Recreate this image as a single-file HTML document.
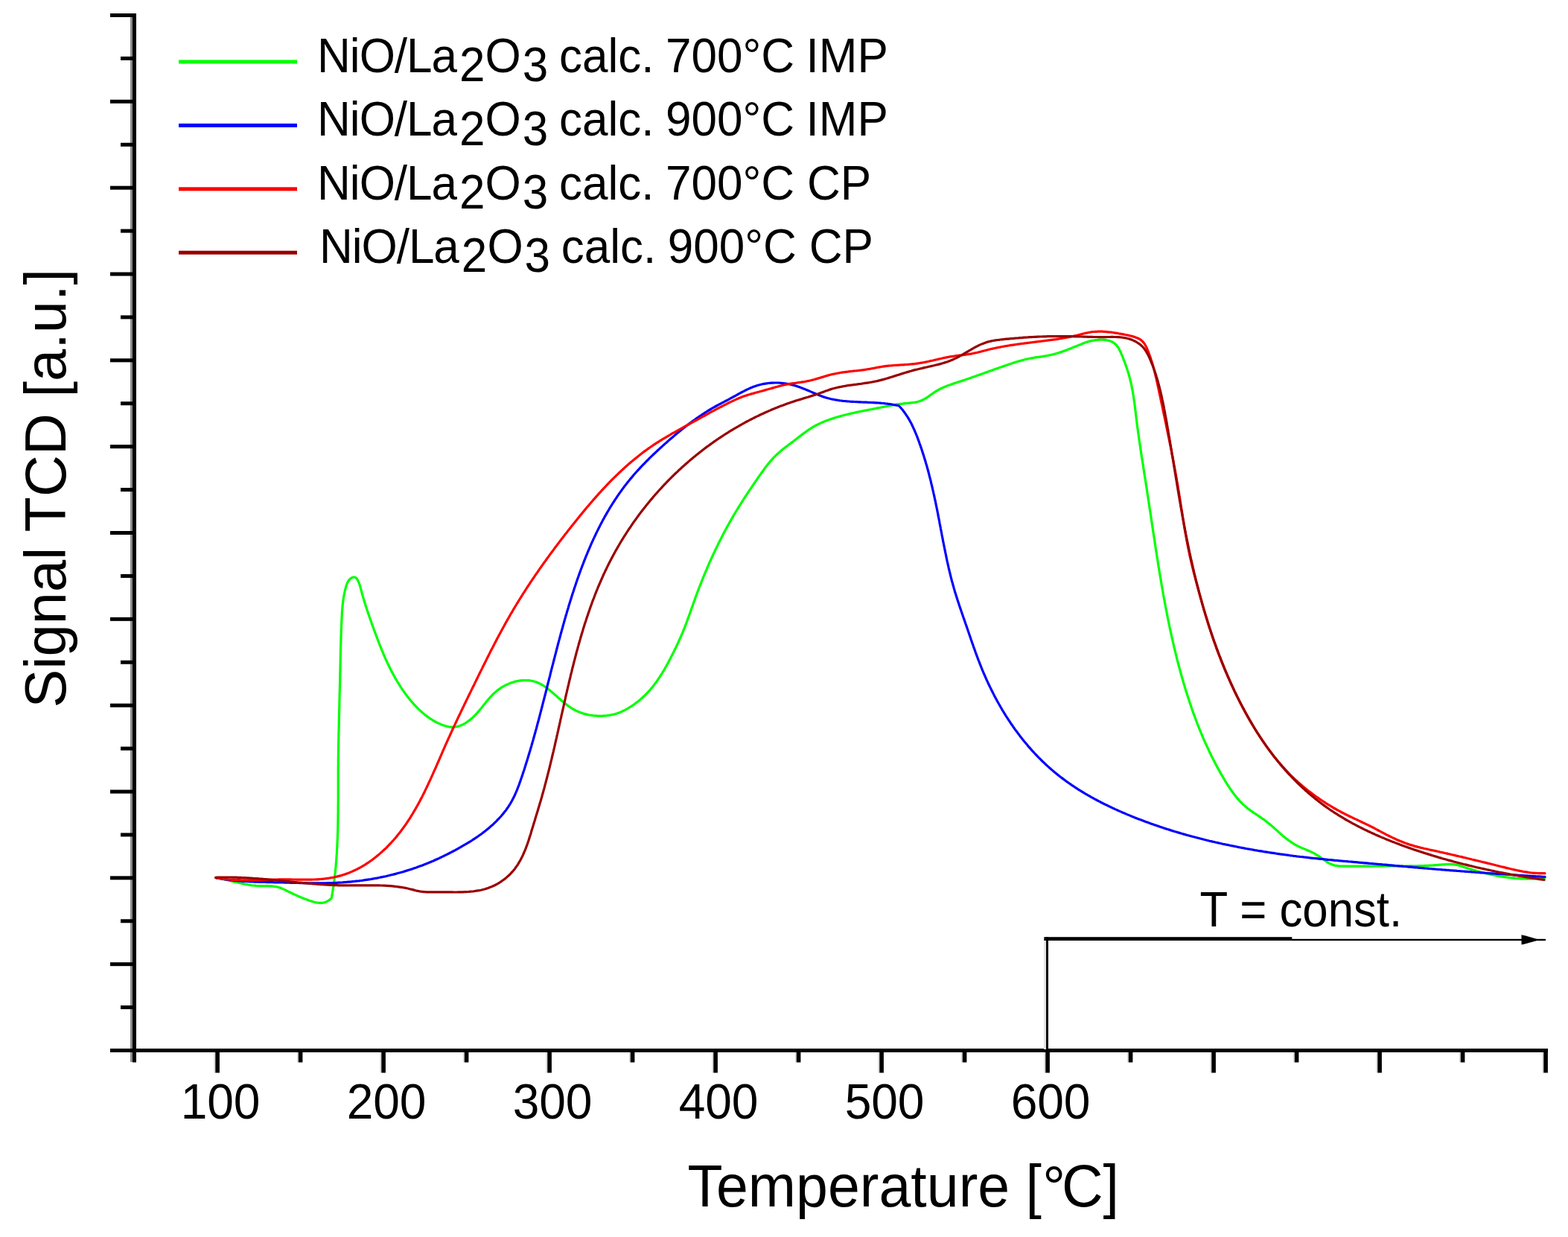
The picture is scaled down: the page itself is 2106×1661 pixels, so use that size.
<!DOCTYPE html>
<html><head><meta charset="utf-8"><title>TPR profiles</title>
<style>
html,body{margin:0;padding:0;background:#fff;}
svg{display:block;}
text{font-family:"Liberation Sans", Arial, sans-serif;fill:#000;}
.tl{font-size:63px;}
.tc{font-size:63px;}
.lg{font-size:62px;}
.al{font-size:79px;}
.yl{font-size:78px;}
.deg{letter-spacing:-6px;}
</style></head><body>
<svg xmlns="http://www.w3.org/2000/svg" width="2106" height="1661" viewBox="0 0 2106 1661">
<rect width="2106" height="1661" fill="#fff"/>
<rect x="175" y="23" width="3" height="1403" fill="#8a8a8a"/>
<rect x="178" y="18" width="5" height="1408.5" fill="#000"/>
<rect x="148" y="18.00" width="35" height="5" fill="#000"/>
<rect x="162" y="75.92" width="21" height="5" fill="#000"/>
<rect x="148" y="133.83" width="35" height="5" fill="#000"/>
<rect x="162" y="191.75" width="21" height="5" fill="#000"/>
<rect x="148" y="249.67" width="35" height="5" fill="#000"/>
<rect x="162" y="307.59" width="21" height="5" fill="#000"/>
<rect x="148" y="365.50" width="35" height="5" fill="#000"/>
<rect x="162" y="423.42" width="21" height="5" fill="#000"/>
<rect x="148" y="481.34" width="35" height="5" fill="#000"/>
<rect x="162" y="539.25" width="21" height="5" fill="#000"/>
<rect x="148" y="597.17" width="35" height="5" fill="#000"/>
<rect x="162" y="655.09" width="21" height="5" fill="#000"/>
<rect x="148" y="713.00" width="35" height="5" fill="#000"/>
<rect x="162" y="770.92" width="21" height="5" fill="#000"/>
<rect x="148" y="828.84" width="35" height="5" fill="#000"/>
<rect x="162" y="886.75" width="21" height="5" fill="#000"/>
<rect x="148" y="944.67" width="35" height="5" fill="#000"/>
<rect x="162" y="1002.59" width="21" height="5" fill="#000"/>
<rect x="148" y="1060.51" width="35" height="5" fill="#000"/>
<rect x="162" y="1118.42" width="21" height="5" fill="#000"/>
<rect x="148" y="1176.34" width="35" height="5" fill="#000"/>
<rect x="162" y="1234.26" width="21" height="5" fill="#000"/>
<rect x="148" y="1292.17" width="35" height="5" fill="#000"/>
<rect x="162" y="1350.09" width="21" height="5" fill="#000"/>
<rect x="148" y="1408" width="1931" height="5" fill="#000"/>
<rect x="287.50" y="1413" width="1.8" height="27.5" fill="#d4d4d4"/>
<rect x="289.30" y="1412" width="5.6" height="28.5" fill="#000"/>
<rect x="399.00" y="1413" width="1.8" height="13.5" fill="#d4d4d4"/>
<rect x="400.80" y="1412" width="5.6" height="14.5" fill="#000"/>
<rect x="510.50" y="1413" width="1.8" height="27.5" fill="#d4d4d4"/>
<rect x="512.30" y="1412" width="5.6" height="28.5" fill="#000"/>
<rect x="622.00" y="1413" width="1.8" height="13.5" fill="#d4d4d4"/>
<rect x="623.80" y="1412" width="5.6" height="14.5" fill="#000"/>
<rect x="733.50" y="1413" width="1.8" height="27.5" fill="#d4d4d4"/>
<rect x="735.30" y="1412" width="5.6" height="28.5" fill="#000"/>
<rect x="845.00" y="1413" width="1.8" height="13.5" fill="#d4d4d4"/>
<rect x="846.80" y="1412" width="5.6" height="14.5" fill="#000"/>
<rect x="956.50" y="1413" width="1.8" height="27.5" fill="#d4d4d4"/>
<rect x="958.30" y="1412" width="5.6" height="28.5" fill="#000"/>
<rect x="1068.00" y="1413" width="1.8" height="13.5" fill="#d4d4d4"/>
<rect x="1069.80" y="1412" width="5.6" height="14.5" fill="#000"/>
<rect x="1179.50" y="1413" width="1.8" height="27.5" fill="#d4d4d4"/>
<rect x="1181.30" y="1412" width="5.6" height="28.5" fill="#000"/>
<rect x="1291.00" y="1413" width="1.8" height="13.5" fill="#d4d4d4"/>
<rect x="1292.80" y="1412" width="5.6" height="14.5" fill="#000"/>
<rect x="1402.50" y="1413" width="1.8" height="27.5" fill="#d4d4d4"/>
<rect x="1404.30" y="1412" width="5.6" height="28.5" fill="#000"/>
<rect x="1514.00" y="1413" width="1.8" height="13.5" fill="#d4d4d4"/>
<rect x="1515.80" y="1412" width="5.6" height="14.5" fill="#000"/>
<rect x="1625.50" y="1413" width="1.8" height="27.5" fill="#d4d4d4"/>
<rect x="1627.30" y="1412" width="5.6" height="28.5" fill="#000"/>
<rect x="1737.00" y="1413" width="1.8" height="13.5" fill="#d4d4d4"/>
<rect x="1738.80" y="1412" width="5.6" height="14.5" fill="#000"/>
<rect x="1848.50" y="1413" width="1.8" height="27.5" fill="#d4d4d4"/>
<rect x="1850.30" y="1412" width="5.6" height="28.5" fill="#000"/>
<rect x="1960.00" y="1413" width="1.8" height="13.5" fill="#d4d4d4"/>
<rect x="1961.80" y="1412" width="5.6" height="14.5" fill="#000"/>
<rect x="2071.50" y="1413" width="1.8" height="27.5" fill="#d4d4d4"/>
<rect x="2073.30" y="1412" width="5.6" height="28.5" fill="#000"/>
<text transform="translate(349.5,1502.4) scale(1.017,1.06)" text-anchor="end" class="tl">100</text>
<text transform="translate(572.5,1502.4) scale(1.017,1.06)" text-anchor="end" class="tl">200</text>
<text transform="translate(795.5,1502.4) scale(1.017,1.06)" text-anchor="end" class="tl">300</text>
<text transform="translate(1018.5,1502.4) scale(1.017,1.06)" text-anchor="end" class="tl">400</text>
<text transform="translate(1241.5,1502.4) scale(1.017,1.06)" text-anchor="end" class="tl">500</text>
<text transform="translate(1464.5,1502.4) scale(1.017,1.06)" text-anchor="end" class="tl">600</text>
<rect x="1402" y="1263" width="3" height="146" fill="#e4e4e4"/>
<rect x="1405" y="1258.2" width="3" height="151" fill="#000"/>
<rect x="1402.3" y="1258.2" width="333" height="4.8" fill="#000"/>
<rect x="1735" y="1260.8" width="341" height="2.3" fill="#000"/>
<polygon points="2043.5,1255.3 2049,1256.6 2068,1261.9 2049,1267.3 2043.5,1268.6" fill="#000"/>
<text transform="translate(1611.5,1243.8) scale(0.98,1.053)" class="tc">T = const.</text>
<rect x="240" y="80.5" width="159" height="5" fill="#00ff00"/>
<text transform="translate(0.0,96.90) scale(1,1.04)" class="lg"><tspan x="426.1" y="0" style="letter-spacing:-1px">NiO/La</tspan><tspan x="617.0" y="11.83">2</tspan><tspan x="651.6" y="0">O</tspan><tspan x="701.8" y="11.83">3</tspan><tspan x="751.0" y="0">calc.</tspan> <tspan x="894.0" y="0">700°C</tspan> <tspan x="1082.6" y="0">IMP</tspan></text>
<rect x="240" y="165.9" width="159" height="5" fill="#0000ff"/>
<text transform="translate(0.0,182.25) scale(1,1.04)" class="lg"><tspan x="426.1" y="0" style="letter-spacing:-1px">NiO/La</tspan><tspan x="617.0" y="11.83">2</tspan><tspan x="651.6" y="0">O</tspan><tspan x="701.8" y="11.83">3</tspan><tspan x="751.0" y="0">calc.</tspan> <tspan x="894.0" y="0">900°C</tspan> <tspan x="1082.6" y="0">IMP</tspan></text>
<rect x="240" y="251.3" width="159" height="5" fill="#ff0000"/>
<text transform="translate(0.0,267.60) scale(1,1.04)" class="lg"><tspan x="426.1" y="0" style="letter-spacing:-1px">NiO/La</tspan><tspan x="617.0" y="11.83">2</tspan><tspan x="651.6" y="0">O</tspan><tspan x="701.8" y="11.83">3</tspan><tspan x="751.0" y="0">calc.</tspan> <tspan x="894.0" y="0">700°C</tspan> <tspan x="1084.0" y="0">CP</tspan></text>
<rect x="240" y="336.7" width="159" height="5" fill="#990000"/>
<text transform="translate(2.8,352.95) scale(1,1.04)" class="lg"><tspan x="426.1" y="0" style="letter-spacing:-1px">NiO/La</tspan><tspan x="617.0" y="11.83">2</tspan><tspan x="651.6" y="0">O</tspan><tspan x="701.8" y="11.83">3</tspan><tspan x="751.0" y="0">calc.</tspan> <tspan x="894.0" y="0">900°C</tspan> <tspan x="1084.0" y="0">CP</tspan></text>
<text transform="translate(87.5,950.4) rotate(-90) scale(0.995,1.0)" class="yl">Signal TCD [a.u.]</text>
<text transform="translate(923.4,1620.2) scale(0.976,1)" class="al">Temperature [<tspan x="488.6" dy="2">°</tspan><tspan x="514.9" dy="-2">C]</tspan></text>
<path d="M290.5 1178.8 L292.5 1179.1 L294.5 1179.5 L296.5 1179.8 L298.5 1180.2 L300.5 1180.6 L302.5 1181.1 L304.4 1181.5 L306.4 1182.0 L308.4 1182.4 L310.4 1182.9 L312.3 1183.4 L314.3 1183.9 L316.3 1184.4 L318.3 1184.8 L320.3 1185.3 L322.2 1185.8 L324.2 1186.2 L326.2 1186.6 L328.2 1187.1 L330.2 1187.4 L332.2 1187.8 L334.2 1188.2 L336.2 1188.5 L338.2 1188.8 L340.2 1189.0 L342.3 1189.2 L344.3 1189.4 L346.3 1189.5 L348.4 1189.6 L350.5 1189.7 L352.5 1189.7 L354.6 1189.7 L356.6 1189.7 L358.7 1189.7 L360.7 1189.7 L362.7 1189.8 L364.7 1189.9 L366.7 1190.1 L368.7 1190.3 L370.6 1190.6 L372.6 1191.0 L374.4 1191.5 L376.3 1192.1 L378.1 1192.8 L379.9 1193.6 L381.7 1194.4 L383.5 1195.3 L385.3 1196.2 L387.2 1197.1 L389.0 1198.0 L390.8 1198.8 L392.6 1199.7 L394.5 1200.6 L396.4 1201.4 L398.2 1202.3 L400.1 1203.1 L402.0 1204.0 L403.9 1204.8 L405.8 1205.6 L407.7 1206.3 L409.6 1207.1 L411.5 1207.8 L413.4 1208.5 L415.3 1209.2 L417.2 1209.8 L419.2 1210.4 L421.1 1211.0 L423.0 1211.5 L425.0 1211.9 L426.9 1212.2 L428.8 1212.4 L430.7 1212.4 L432.6 1212.3 L434.5 1212.0 L436.3 1211.6 L438.2 1210.9 L440.0 1210.0 L441.7 1208.9 L443.5 1207.6 L445.2 1206.0 L445.6 1204.0 L445.9 1202.1 L446.3 1200.1 L446.6 1198.2 L446.9 1196.2 L447.2 1194.2 L447.5 1192.3 L447.8 1190.3 L448.1 1188.3 L448.4 1186.3 L448.6 1184.4 L448.9 1182.4 L449.1 1180.4 L449.4 1178.4 L449.6 1176.5 L449.8 1174.5 L450.1 1172.5 L450.3 1170.5 L450.5 1168.5 L450.7 1166.6 L450.9 1164.6 L451.1 1162.6 L451.2 1160.6 L451.4 1158.6 L451.6 1156.6 L451.7 1154.6 L451.9 1152.6 L452.0 1150.6 L452.1 1148.6 L452.3 1146.7 L452.4 1144.7 L452.5 1142.7 L452.6 1140.7 L452.7 1138.7 L452.9 1136.7 L452.9 1134.7 L453.0 1132.7 L453.1 1130.7 L453.2 1128.7 L453.3 1126.7 L453.4 1124.7 L453.4 1122.7 L453.5 1120.7 L453.6 1118.7 L453.6 1116.7 L453.7 1114.7 L453.7 1112.7 L453.8 1110.7 L453.8 1108.6 L453.9 1106.6 L453.9 1104.6 L453.9 1102.6 L454.0 1100.6 L454.0 1098.6 L454.0 1096.6 L454.0 1094.6 L454.1 1092.6 L454.1 1090.6 L454.1 1088.6 L454.1 1086.6 L454.1 1084.6 L454.1 1082.6 L454.1 1080.5 L454.2 1078.5 L454.2 1076.5 L454.2 1074.5 L454.2 1072.5 L454.2 1070.5 L454.2 1068.5 L454.2 1066.5 L454.2 1064.5 L454.2 1062.5 L454.2 1060.5 L454.2 1058.4 L454.2 1056.4 L454.2 1054.4 L454.2 1052.4 L454.2 1050.4 L454.2 1048.4 L454.2 1046.4 L454.2 1044.4 L454.2 1042.4 L454.2 1040.4 L454.2 1038.4 L454.2 1036.4 L454.2 1034.4 L454.2 1032.4 L454.2 1030.4 L454.3 1028.4 L454.3 1026.4 L454.3 1024.4 L454.3 1022.4 L454.3 1020.4 L454.3 1018.3 L454.4 1016.3 L454.4 1014.3 L454.4 1012.3 L454.5 1010.3 L454.5 1008.4 L454.5 1006.4 L454.5 1004.4 L454.6 1002.4 L454.6 1000.4 L454.6 998.4 L454.7 996.4 L454.7 994.4 L454.8 992.4 L454.8 990.4 L454.8 988.4 L454.9 986.4 L454.9 984.4 L455.0 982.4 L455.0 980.4 L455.1 978.4 L455.1 976.4 L455.2 974.4 L455.2 972.4 L455.3 970.4 L455.3 968.4 L455.3 966.4 L455.4 964.4 L455.4 962.4 L455.5 960.4 L455.5 958.4 L455.6 956.4 L455.6 954.4 L455.7 952.4 L455.7 950.4 L455.8 948.4 L455.8 946.4 L455.9 944.4 L455.9 942.4 L456.0 940.4 L456.0 938.4 L456.1 936.4 L456.1 934.4 L456.2 932.4 L456.2 930.4 L456.3 928.4 L456.3 926.4 L456.4 924.4 L456.4 922.4 L456.5 920.4 L456.5 918.4 L456.6 916.4 L456.6 914.4 L456.7 912.3 L456.7 910.3 L456.7 908.3 L456.8 906.3 L456.8 904.3 L456.9 902.3 L456.9 900.3 L457.0 898.3 L457.0 896.3 L457.0 894.3 L457.1 892.2 L457.1 890.2 L457.2 888.2 L457.2 886.2 L457.3 884.2 L457.3 882.2 L457.3 880.2 L457.4 878.2 L457.4 876.2 L457.5 874.2 L457.5 872.2 L457.6 870.2 L457.6 868.2 L457.7 866.2 L457.8 864.2 L457.8 862.2 L457.9 860.2 L457.9 858.2 L458.0 856.2 L458.0 854.2 L458.1 852.2 L458.2 850.2 L458.2 848.2 L458.3 846.2 L458.4 844.2 L458.5 842.2 L458.5 840.2 L458.6 838.2 L458.7 836.3 L458.8 834.3 L458.9 832.3 L459.0 830.3 L459.1 828.3 L459.2 826.4 L459.3 824.4 L459.4 822.4 L459.5 820.4 L459.7 818.5 L459.8 816.5 L460.0 814.5 L460.2 812.5 L460.4 810.5 L460.6 808.6 L460.9 806.6 L461.2 804.6 L461.5 802.6 L461.8 800.5 L462.2 798.5 L462.6 796.5 L463.0 794.5 L463.5 792.4 L464.0 790.4 L464.6 788.3 L465.2 786.3 L465.9 784.3 L466.7 782.3 L467.6 780.5 L468.8 778.9 L470.1 777.4 L471.6 776.3 L473.1 775.4 L474.7 775.0 L476.2 775.0 L477.5 775.4 L478.7 776.4 L479.8 777.8 L480.7 779.5 L481.5 781.3 L482.3 783.2 L483.0 785.1 L483.6 787.1 L484.2 789.1 L484.7 791.0 L485.3 793.0 L485.8 795.0 L486.3 797.0 L486.9 799.0 L487.4 800.9 L488.0 802.9 L488.6 804.8 L489.1 806.8 L489.7 808.7 L490.3 810.6 L490.9 812.6 L491.6 814.5 L492.2 816.4 L492.8 818.3 L493.4 820.2 L494.1 822.1 L494.7 824.0 L495.4 825.9 L496.0 827.8 L496.7 829.7 L497.3 831.6 L498.0 833.4 L498.7 835.3 L499.3 837.2 L500.0 839.1 L500.7 841.0 L501.4 842.8 L502.0 844.7 L502.7 846.6 L503.4 848.5 L504.1 850.3 L504.8 852.2 L505.5 854.1 L506.2 855.9 L506.9 857.8 L507.6 859.7 L508.3 861.5 L509.0 863.4 L509.8 865.3 L510.5 867.1 L511.2 869.0 L512.0 870.8 L512.7 872.7 L513.5 874.5 L514.3 876.3 L515.0 878.2 L515.8 880.0 L516.6 881.8 L517.4 883.7 L518.2 885.5 L519.1 887.3 L519.9 889.1 L520.7 890.9 L521.6 892.7 L522.5 894.5 L523.3 896.3 L524.2 898.1 L525.1 899.8 L526.0 901.6 L527.0 903.4 L527.9 905.1 L528.9 906.9 L529.8 908.6 L530.8 910.4 L531.8 912.1 L532.8 913.8 L533.8 915.5 L534.9 917.2 L535.9 918.9 L537.0 920.6 L538.1 922.3 L539.2 924.0 L540.3 925.7 L541.5 927.3 L542.6 929.0 L543.8 930.6 L545.0 932.2 L546.2 933.9 L547.4 935.5 L548.7 937.1 L550.0 938.7 L551.2 940.2 L552.5 941.8 L553.9 943.4 L555.2 944.9 L556.6 946.4 L558.0 947.9 L559.4 949.3 L560.8 950.8 L562.2 952.2 L563.7 953.6 L565.2 955.0 L566.7 956.3 L568.2 957.6 L569.7 958.9 L571.3 960.2 L572.9 961.4 L574.5 962.6 L576.1 963.7 L577.7 964.9 L579.4 965.9 L581.1 967.0 L582.8 968.0 L584.5 969.0 L586.2 969.9 L588.0 970.8 L589.8 971.6 L591.6 972.4 L593.4 973.2 L595.2 973.8 L597.1 974.5 L599.0 975.0 L600.9 975.5 L602.8 975.9 L604.7 976.1 L606.6 976.3 L608.6 976.3 L610.5 976.2 L612.5 976.0 L614.4 975.5 L616.4 975.0 L618.3 974.3 L620.3 973.5 L622.1 972.6 L624.0 971.6 L625.8 970.5 L627.6 969.3 L629.2 968.1 L630.9 966.9 L632.5 965.6 L634.0 964.3 L635.5 962.9 L636.9 961.5 L638.3 960.1 L639.7 958.6 L641.1 957.1 L642.4 955.6 L643.7 954.1 L645.0 952.5 L646.3 951.0 L647.5 949.4 L648.8 947.8 L650.0 946.2 L651.3 944.7 L652.5 943.1 L653.8 941.6 L655.1 940.0 L656.4 938.5 L657.7 937.0 L659.0 935.5 L660.4 934.1 L661.8 932.6 L663.2 931.2 L664.7 929.9 L666.2 928.6 L667.7 927.3 L669.3 926.1 L671.0 924.9 L672.7 923.7 L674.4 922.7 L676.2 921.6 L678.0 920.6 L679.8 919.7 L681.6 918.9 L683.5 918.1 L685.4 917.3 L687.4 916.6 L689.3 916.0 L691.2 915.4 L693.2 914.9 L695.2 914.5 L697.1 914.2 L699.1 913.9 L701.1 913.7 L703.0 913.5 L705.0 913.5 L707.0 913.5 L708.9 913.6 L710.8 913.7 L712.7 914.0 L714.6 914.3 L716.4 914.7 L718.3 915.2 L720.1 915.8 L721.8 916.5 L723.6 917.3 L725.3 918.1 L727.0 919.0 L728.6 919.9 L730.3 921.0 L731.9 922.0 L733.5 923.2 L735.1 924.3 L736.7 925.6 L738.3 926.8 L739.8 928.1 L741.4 929.4 L742.9 930.7 L744.5 932.1 L746.0 933.5 L747.6 934.8 L749.1 936.2 L750.7 937.6 L752.3 939.0 L753.8 940.4 L755.4 941.7 L757.0 943.0 L758.6 944.4 L760.3 945.6 L761.9 946.9 L763.6 948.1 L765.2 949.3 L767.0 950.4 L768.7 951.5 L770.4 952.5 L772.2 953.5 L774.1 954.4 L775.9 955.2 L777.8 956.0 L779.6 956.8 L781.5 957.4 L783.5 958.1 L785.4 958.6 L787.4 959.1 L789.3 959.6 L791.3 960.0 L793.3 960.3 L795.2 960.6 L797.2 960.9 L799.2 961.1 L801.2 961.2 L803.2 961.3 L805.2 961.4 L807.1 961.4 L809.1 961.3 L811.1 961.2 L813.0 961.1 L814.9 960.9 L816.8 960.6 L818.7 960.4 L820.6 960.0 L822.5 959.6 L824.3 959.2 L826.2 958.7 L828.0 958.2 L829.8 957.6 L831.6 956.9 L833.4 956.2 L835.3 955.4 L837.1 954.5 L839.0 953.6 L840.8 952.6 L842.7 951.6 L844.5 950.5 L846.2 949.4 L848.0 948.3 L849.7 947.2 L851.4 946.0 L853.0 944.8 L854.6 943.6 L856.2 942.4 L857.8 941.2 L859.3 939.9 L860.8 938.6 L862.3 937.3 L863.7 936.0 L865.1 934.7 L866.5 933.3 L867.9 931.9 L869.2 930.5 L870.6 929.1 L871.9 927.7 L873.2 926.2 L874.4 924.7 L875.7 923.2 L876.9 921.7 L878.1 920.2 L879.3 918.6 L880.5 917.0 L881.7 915.4 L882.8 913.8 L883.9 912.2 L885.1 910.5 L886.2 908.8 L887.2 907.2 L888.3 905.5 L889.4 903.8 L890.4 902.0 L891.5 900.3 L892.5 898.6 L893.5 896.8 L894.5 895.1 L895.5 893.3 L896.5 891.5 L897.4 889.7 L898.4 888.0 L899.3 886.2 L900.3 884.4 L901.2 882.6 L902.1 880.8 L903.0 879.0 L903.9 877.2 L904.8 875.4 L905.7 873.6 L906.6 871.8 L907.5 870.0 L908.3 868.2 L909.2 866.4 L910.0 864.6 L910.9 862.8 L911.7 861.0 L912.5 859.2 L913.3 857.4 L914.1 855.6 L914.9 853.8 L915.7 851.9 L916.5 850.1 L917.2 848.3 L918.0 846.5 L918.7 844.6 L919.4 842.8 L920.2 840.9 L920.9 839.1 L921.6 837.2 L922.3 835.3 L923.0 833.5 L923.6 831.6 L924.3 829.7 L925.0 827.8 L925.7 826.0 L926.4 824.1 L927.0 822.2 L927.7 820.3 L928.4 818.4 L929.0 816.5 L929.7 814.7 L930.4 812.8 L931.0 810.9 L931.7 809.0 L932.4 807.1 L933.1 805.2 L933.7 803.4 L934.4 801.5 L935.1 799.6 L935.8 797.7 L936.5 795.8 L937.2 794.0 L937.9 792.1 L938.6 790.2 L939.4 788.4 L940.1 786.5 L940.8 784.6 L941.6 782.8 L942.3 780.9 L943.0 779.1 L943.8 777.2 L944.5 775.4 L945.3 773.5 L946.1 771.7 L946.8 769.8 L947.6 768.0 L948.4 766.1 L949.2 764.3 L949.9 762.4 L950.7 760.6 L951.5 758.8 L952.3 756.9 L953.1 755.1 L954.0 753.3 L954.8 751.5 L955.6 749.6 L956.4 747.8 L957.3 746.0 L958.1 744.2 L958.9 742.4 L959.8 740.6 L960.7 738.8 L961.5 737.0 L962.4 735.2 L963.3 733.4 L964.1 731.6 L965.0 729.8 L965.9 728.0 L966.8 726.2 L967.7 724.4 L968.6 722.7 L969.5 720.9 L970.4 719.1 L971.4 717.3 L972.3 715.6 L973.2 713.8 L974.2 712.0 L975.1 710.3 L976.1 708.5 L977.0 706.8 L978.0 705.0 L979.0 703.3 L979.9 701.6 L980.9 699.8 L981.9 698.1 L982.9 696.3 L983.9 694.6 L984.9 692.9 L985.9 691.2 L987.0 689.5 L988.0 687.7 L989.0 686.0 L990.1 684.3 L991.1 682.6 L992.1 680.9 L993.2 679.2 L994.3 677.5 L995.3 675.8 L996.4 674.1 L997.5 672.5 L998.5 670.8 L999.6 669.1 L1000.7 667.4 L1001.8 665.7 L1002.9 664.1 L1004.0 662.4 L1005.1 660.7 L1006.2 659.1 L1007.3 657.4 L1008.5 655.7 L1009.6 654.1 L1010.7 652.4 L1011.8 650.8 L1012.9 649.1 L1014.1 647.5 L1015.2 645.8 L1016.4 644.2 L1017.5 642.5 L1018.6 640.9 L1019.8 639.2 L1020.9 637.6 L1022.1 635.9 L1023.2 634.3 L1024.4 632.7 L1025.6 631.1 L1026.7 629.5 L1027.9 627.9 L1029.1 626.3 L1030.4 624.7 L1031.6 623.1 L1032.9 621.6 L1034.1 620.1 L1035.4 618.6 L1036.7 617.1 L1038.0 615.6 L1039.4 614.2 L1040.8 612.8 L1042.2 611.4 L1043.6 610.0 L1045.1 608.7 L1046.6 607.4 L1048.1 606.1 L1049.6 604.8 L1051.1 603.6 L1052.7 602.3 L1054.3 601.1 L1055.9 599.9 L1057.4 598.7 L1059.0 597.5 L1060.6 596.3 L1062.2 595.1 L1063.8 593.9 L1065.4 592.7 L1067.0 591.4 L1068.6 590.2 L1070.2 589.0 L1071.8 587.8 L1073.3 586.5 L1074.9 585.3 L1076.5 584.1 L1078.1 582.9 L1079.7 581.7 L1081.3 580.6 L1082.9 579.4 L1084.5 578.3 L1086.1 577.1 L1087.8 576.0 L1089.5 575.0 L1091.1 573.9 L1092.8 572.9 L1094.5 572.0 L1096.3 571.0 L1098.0 570.1 L1099.8 569.3 L1101.6 568.4 L1103.4 567.6 L1105.2 566.8 L1107.0 566.1 L1108.9 565.3 L1110.7 564.6 L1112.6 563.9 L1114.4 563.3 L1116.3 562.6 L1118.2 562.0 L1120.1 561.4 L1122.0 560.8 L1123.9 560.2 L1125.9 559.6 L1127.8 559.1 L1129.7 558.5 L1131.6 558.0 L1133.6 557.5 L1135.5 557.0 L1137.5 556.5 L1139.4 556.1 L1141.4 555.6 L1143.3 555.1 L1145.3 554.7 L1147.3 554.3 L1149.2 553.8 L1151.2 553.4 L1153.1 553.0 L1155.1 552.6 L1157.1 552.2 L1159.1 551.8 L1161.0 551.4 L1163.0 551.0 L1165.0 550.6 L1166.9 550.2 L1168.9 549.8 L1170.9 549.5 L1172.8 549.1 L1174.8 548.7 L1176.8 548.3 L1178.7 547.9 L1180.7 547.6 L1182.6 547.2 L1184.6 546.8 L1186.5 546.4 L1188.5 546.0 L1190.4 545.7 L1192.3 545.3 L1194.3 544.9 L1196.2 544.5 L1198.2 544.2 L1200.1 543.8 L1202.0 543.5 L1204.0 543.1 L1205.9 542.8 L1207.9 542.6 L1209.8 542.3 L1211.8 542.1 L1213.8 541.8 L1215.7 541.6 L1217.7 541.5 L1219.7 541.3 L1221.7 541.1 L1223.6 540.9 L1225.6 540.7 L1227.5 540.4 L1229.5 540.1 L1231.4 539.7 L1233.3 539.3 L1235.1 538.7 L1236.9 538.1 L1238.7 537.3 L1240.5 536.4 L1242.3 535.5 L1244.0 534.4 L1245.7 533.3 L1247.4 532.1 L1249.0 530.9 L1250.7 529.7 L1252.4 528.5 L1254.1 527.4 L1255.8 526.2 L1257.5 525.1 L1259.2 524.1 L1261.0 523.1 L1262.8 522.2 L1264.6 521.3 L1266.4 520.5 L1268.2 519.7 L1270.0 519.0 L1271.8 518.2 L1273.7 517.5 L1275.5 516.9 L1277.4 516.2 L1279.2 515.6 L1281.1 514.9 L1283.0 514.3 L1284.9 513.7 L1286.7 513.1 L1288.6 512.5 L1290.5 511.9 L1292.4 511.2 L1294.3 510.6 L1296.1 510.0 L1298.0 509.3 L1299.9 508.7 L1301.8 508.0 L1303.6 507.4 L1305.5 506.7 L1307.4 506.1 L1309.3 505.4 L1311.2 504.7 L1313.0 504.1 L1314.9 503.4 L1316.8 502.7 L1318.7 502.1 L1320.6 501.4 L1322.4 500.7 L1324.3 500.0 L1326.2 499.4 L1328.1 498.7 L1330.0 498.0 L1331.9 497.4 L1333.7 496.7 L1335.6 496.0 L1337.5 495.3 L1339.4 494.7 L1341.3 494.0 L1343.2 493.3 L1345.1 492.7 L1347.0 492.0 L1348.9 491.4 L1350.8 490.7 L1352.7 490.1 L1354.6 489.4 L1356.5 488.8 L1358.4 488.2 L1360.3 487.5 L1362.2 486.9 L1364.1 486.3 L1366.0 485.7 L1367.9 485.1 L1369.9 484.6 L1371.8 484.0 L1373.7 483.5 L1375.6 483.0 L1377.6 482.5 L1379.5 482.1 L1381.4 481.7 L1383.4 481.3 L1385.3 480.9 L1387.3 480.6 L1389.2 480.2 L1391.2 479.9 L1393.1 479.6 L1395.1 479.4 L1397.1 479.1 L1399.0 478.8 L1401.0 478.5 L1402.9 478.2 L1404.9 477.8 L1406.8 477.5 L1408.8 477.1 L1410.8 476.7 L1412.7 476.3 L1414.7 475.8 L1416.6 475.3 L1418.6 474.7 L1420.5 474.2 L1422.4 473.6 L1424.4 472.9 L1426.3 472.3 L1428.2 471.6 L1430.1 470.9 L1432.0 470.3 L1433.9 469.5 L1435.8 468.8 L1437.6 468.1 L1439.5 467.3 L1441.3 466.6 L1443.1 465.8 L1444.9 465.1 L1446.7 464.4 L1448.5 463.6 L1450.3 462.9 L1452.1 462.2 L1453.8 461.5 L1455.6 460.8 L1457.4 460.1 L1459.2 459.5 L1461.1 458.9 L1463.0 458.4 L1464.9 457.9 L1466.8 457.4 L1468.9 457.1 L1470.9 456.7 L1473.0 456.5 L1475.2 456.3 L1477.3 456.2 L1479.5 456.2 L1481.7 456.2 L1483.8 456.4 L1485.9 456.7 L1487.9 457.1 L1489.9 457.6 L1491.8 458.3 L1493.6 459.0 L1495.3 460.0 L1496.8 461.0 L1498.2 462.2 L1499.5 463.6 L1500.7 465.0 L1501.8 466.6 L1502.8 468.2 L1503.7 470.0 L1504.6 471.7 L1505.4 473.6 L1506.2 475.4 L1507.0 477.3 L1507.8 479.1 L1508.5 481.0 L1509.2 482.9 L1510.0 484.8 L1510.7 486.6 L1511.4 488.5 L1512.0 490.4 L1512.7 492.3 L1513.3 494.2 L1514.0 496.1 L1514.6 498.1 L1515.2 500.0 L1515.8 501.9 L1516.3 503.8 L1516.9 505.8 L1517.4 507.7 L1517.9 509.6 L1518.4 511.6 L1518.9 513.5 L1519.3 515.5 L1519.7 517.4 L1520.1 519.4 L1520.5 521.3 L1520.9 523.3 L1521.3 525.3 L1521.6 527.2 L1521.9 529.2 L1522.3 531.2 L1522.6 533.2 L1522.8 535.2 L1523.1 537.1 L1523.4 539.1 L1523.7 541.1 L1523.9 543.1 L1524.2 545.1 L1524.4 547.1 L1524.7 549.1 L1524.9 551.0 L1525.2 553.0 L1525.4 555.0 L1525.6 557.0 L1525.9 559.0 L1526.1 561.0 L1526.4 563.0 L1526.6 565.0 L1526.9 567.0 L1527.1 568.9 L1527.4 570.9 L1527.6 572.9 L1527.9 574.9 L1528.2 576.9 L1528.4 578.9 L1528.7 580.8 L1529.0 582.8 L1529.3 584.8 L1529.5 586.8 L1529.8 588.8 L1530.1 590.7 L1530.4 592.7 L1530.7 594.7 L1531.0 596.7 L1531.3 598.7 L1531.6 600.6 L1531.8 602.6 L1532.1 604.6 L1532.4 606.6 L1532.7 608.5 L1533.0 610.5 L1533.3 612.5 L1533.6 614.5 L1534.0 616.4 L1534.3 618.4 L1534.6 620.4 L1534.9 622.4 L1535.2 624.3 L1535.5 626.3 L1535.8 628.3 L1536.1 630.3 L1536.4 632.2 L1536.7 634.2 L1537.0 636.2 L1537.3 638.2 L1537.6 640.1 L1538.0 642.1 L1538.3 644.1 L1538.6 646.1 L1538.9 648.0 L1539.2 650.0 L1539.5 652.0 L1539.8 654.0 L1540.1 656.0 L1540.4 657.9 L1540.7 659.9 L1541.0 661.9 L1541.3 663.9 L1541.6 665.8 L1541.9 667.8 L1542.2 669.8 L1542.5 671.8 L1542.8 673.8 L1543.1 675.7 L1543.4 677.7 L1543.7 679.7 L1544.0 681.7 L1544.3 683.7 L1544.6 685.6 L1544.9 687.6 L1545.2 689.6 L1545.5 691.6 L1545.8 693.6 L1546.1 695.6 L1546.4 697.5 L1546.7 699.5 L1547.0 701.5 L1547.3 703.5 L1547.6 705.5 L1547.9 707.5 L1548.2 709.4 L1548.5 711.4 L1548.8 713.4 L1549.1 715.4 L1549.4 717.4 L1549.7 719.4 L1550.0 721.3 L1550.3 723.3 L1550.6 725.3 L1550.9 727.3 L1551.2 729.3 L1551.5 731.2 L1551.8 733.2 L1552.1 735.2 L1552.4 737.2 L1552.7 739.2 L1553.0 741.2 L1553.3 743.1 L1553.6 745.1 L1553.9 747.1 L1554.3 749.1 L1554.6 751.1 L1554.9 753.0 L1555.2 755.0 L1555.5 757.0 L1555.8 759.0 L1556.1 761.0 L1556.5 762.9 L1556.8 764.9 L1557.1 766.9 L1557.4 768.9 L1557.8 770.9 L1558.1 772.8 L1558.4 774.8 L1558.8 776.8 L1559.1 778.8 L1559.4 780.7 L1559.8 782.7 L1560.1 784.7 L1560.4 786.7 L1560.8 788.6 L1561.1 790.6 L1561.5 792.6 L1561.8 794.6 L1562.2 796.5 L1562.5 798.5 L1562.9 800.5 L1563.2 802.5 L1563.6 804.4 L1564.0 806.4 L1564.3 808.4 L1564.7 810.3 L1565.1 812.3 L1565.4 814.3 L1565.8 816.2 L1566.2 818.2 L1566.6 820.2 L1567.0 822.1 L1567.3 824.1 L1567.7 826.1 L1568.1 828.0 L1568.5 830.0 L1568.9 832.0 L1569.3 833.9 L1569.7 835.9 L1570.1 837.8 L1570.5 839.8 L1570.9 841.8 L1571.3 843.7 L1571.8 845.7 L1572.2 847.6 L1572.6 849.6 L1573.0 851.5 L1573.5 853.5 L1573.9 855.4 L1574.3 857.4 L1574.8 859.3 L1575.2 861.3 L1575.7 863.2 L1576.1 865.2 L1576.6 867.1 L1577.0 869.1 L1577.5 871.0 L1578.0 873.0 L1578.4 874.9 L1578.9 876.9 L1579.4 878.8 L1579.9 880.7 L1580.3 882.7 L1580.8 884.6 L1581.3 886.6 L1581.8 888.5 L1582.3 890.4 L1582.8 892.4 L1583.3 894.3 L1583.9 896.2 L1584.4 898.2 L1584.9 900.1 L1585.4 902.0 L1586.0 904.0 L1586.5 905.9 L1587.0 907.8 L1587.6 909.7 L1588.1 911.7 L1588.7 913.6 L1589.2 915.5 L1589.8 917.4 L1590.4 919.3 L1591.0 921.3 L1591.5 923.2 L1592.1 925.1 L1592.7 927.0 L1593.3 928.9 L1593.9 930.8 L1594.5 932.7 L1595.1 934.6 L1595.7 936.5 L1596.3 938.4 L1597.0 940.3 L1597.6 942.2 L1598.2 944.1 L1598.9 946.0 L1599.5 947.9 L1600.2 949.8 L1600.8 951.7 L1601.5 953.6 L1602.1 955.5 L1602.8 957.4 L1603.5 959.3 L1604.2 961.1 L1604.9 963.0 L1605.6 964.9 L1606.3 966.8 L1607.0 968.7 L1607.7 970.5 L1608.4 972.4 L1609.2 974.3 L1609.9 976.1 L1610.6 978.0 L1611.4 979.8 L1612.2 981.7 L1612.9 983.5 L1613.7 985.4 L1614.5 987.2 L1615.2 989.1 L1616.0 990.9 L1616.8 992.8 L1617.6 994.6 L1618.4 996.4 L1619.3 998.3 L1620.1 1000.1 L1620.9 1001.9 L1621.8 1003.7 L1622.6 1005.5 L1623.5 1007.3 L1624.3 1009.2 L1625.2 1011.0 L1626.1 1012.8 L1626.9 1014.6 L1627.8 1016.4 L1628.7 1018.2 L1629.6 1019.9 L1630.6 1021.7 L1631.5 1023.5 L1632.4 1025.3 L1633.3 1027.1 L1634.3 1028.8 L1635.2 1030.6 L1636.2 1032.4 L1637.2 1034.1 L1638.2 1035.9 L1639.1 1037.6 L1640.1 1039.4 L1641.1 1041.1 L1642.2 1042.9 L1643.2 1044.6 L1644.2 1046.3 L1645.2 1048.1 L1646.3 1049.8 L1647.3 1051.5 L1648.4 1053.2 L1649.5 1054.9 L1650.6 1056.6 L1651.7 1058.3 L1652.8 1059.9 L1654.0 1061.6 L1655.1 1063.2 L1656.3 1064.8 L1657.5 1066.4 L1658.7 1068.0 L1660.0 1069.6 L1661.2 1071.1 L1662.5 1072.6 L1663.8 1074.1 L1665.1 1075.6 L1666.5 1077.0 L1667.9 1078.4 L1669.3 1079.8 L1670.7 1081.1 L1672.2 1082.4 L1673.7 1083.7 L1675.2 1085.0 L1676.8 1086.2 L1678.4 1087.4 L1680.0 1088.6 L1681.6 1089.7 L1683.3 1090.8 L1684.9 1092.0 L1686.6 1093.1 L1688.3 1094.2 L1689.9 1095.3 L1691.6 1096.4 L1693.3 1097.6 L1694.9 1098.7 L1696.6 1099.9 L1698.2 1101.0 L1699.8 1102.2 L1701.4 1103.5 L1703.0 1104.7 L1704.5 1106.0 L1706.1 1107.3 L1707.6 1108.6 L1709.1 1109.9 L1710.6 1111.2 L1712.1 1112.6 L1713.6 1113.9 L1715.1 1115.2 L1716.6 1116.6 L1718.1 1117.9 L1719.6 1119.3 L1721.1 1120.6 L1722.6 1121.9 L1724.2 1123.2 L1725.7 1124.4 L1727.2 1125.7 L1728.8 1126.9 L1730.4 1128.1 L1732.0 1129.3 L1733.6 1130.4 L1735.2 1131.5 L1736.9 1132.6 L1738.6 1133.6 L1740.3 1134.6 L1742.1 1135.5 L1743.8 1136.4 L1745.6 1137.2 L1747.5 1138.1 L1749.3 1138.9 L1751.2 1139.6 L1753.0 1140.4 L1754.9 1141.2 L1756.7 1142.0 L1758.6 1142.8 L1760.4 1143.6 L1762.2 1144.5 L1764.0 1145.4 L1765.8 1146.3 L1767.6 1147.3 L1769.3 1148.3 L1771.0 1149.4 L1772.6 1150.5 L1774.3 1151.7 L1775.9 1152.9 L1777.5 1154.0 L1779.1 1155.2 L1780.7 1156.3 L1782.4 1157.4 L1784.0 1158.5 L1785.7 1159.4 L1787.5 1160.2 L1789.3 1161.0 L1791.1 1161.6 L1793.0 1162.1 L1794.9 1162.4 L1796.9 1162.7 L1798.9 1162.9 L1801.0 1163.0 L1803.0 1163.1 L1805.1 1163.1 L1807.2 1163.2 L1809.3 1163.1 L1811.3 1163.1 L1813.4 1163.1 L1815.5 1163.1 L1817.5 1163.1 L1819.5 1163.1 L1821.6 1163.1 L1823.6 1163.1 L1825.6 1163.1 L1827.7 1163.1 L1829.7 1163.1 L1831.7 1163.1 L1833.7 1163.1 L1835.7 1163.1 L1837.7 1163.1 L1839.7 1163.1 L1841.7 1163.1 L1843.7 1163.1 L1845.6 1163.0 L1847.6 1163.0 L1849.6 1163.0 L1851.6 1163.0 L1853.6 1163.0 L1855.6 1163.0 L1857.5 1163.0 L1859.5 1163.0 L1861.5 1163.0 L1863.5 1163.0 L1865.5 1163.0 L1867.5 1163.0 L1869.4 1163.0 L1871.4 1163.0 L1873.4 1163.0 L1875.4 1163.0 L1877.4 1163.0 L1879.4 1163.0 L1881.4 1163.0 L1883.4 1163.0 L1885.4 1163.0 L1887.4 1163.0 L1889.5 1163.0 L1891.5 1163.0 L1893.5 1162.9 L1895.5 1162.9 L1897.5 1162.9 L1899.5 1162.8 L1901.5 1162.8 L1903.5 1162.8 L1905.5 1162.7 L1907.5 1162.7 L1909.5 1162.6 L1911.6 1162.5 L1913.6 1162.4 L1915.6 1162.4 L1917.6 1162.3 L1919.6 1162.2 L1921.6 1162.1 L1923.6 1162.0 L1925.6 1161.8 L1927.6 1161.7 L1929.6 1161.6 L1931.5 1161.4 L1933.5 1161.2 L1935.5 1161.1 L1937.5 1160.9 L1939.5 1160.8 L1941.4 1160.6 L1943.4 1160.5 L1945.4 1160.5 L1947.3 1160.4 L1949.3 1160.5 L1951.2 1160.6 L1953.2 1160.8 L1955.1 1161.1 L1957.0 1161.5 L1958.9 1161.9 L1960.9 1162.5 L1962.8 1163.1 L1964.7 1163.7 L1966.6 1164.4 L1968.5 1165.0 L1970.4 1165.6 L1972.3 1166.2 L1974.3 1166.8 L1976.2 1167.4 L1978.1 1168.0 L1980.0 1168.6 L1982.0 1169.1 L1983.9 1169.7 L1985.9 1170.2 L1987.8 1170.7 L1989.7 1171.2 L1991.7 1171.8 L1993.6 1172.2 L1995.6 1172.7 L1997.5 1173.2 L1999.5 1173.6 L2001.5 1174.1 L2003.4 1174.5 L2005.4 1174.9 L2007.4 1175.3 L2009.3 1175.7 L2011.3 1176.1 L2013.3 1176.4 L2015.2 1176.8 L2017.2 1177.1 L2019.2 1177.4 L2021.2 1177.7 L2023.2 1178.0 L2025.1 1178.2 L2027.1 1178.5 L2029.1 1178.7 L2031.1 1178.9 L2033.1 1179.1 L2035.1 1179.3 L2037.1 1179.5 L2039.0 1179.6 L2041.0 1179.7 L2043.0 1179.8 L2045.0 1179.9 L2047.0 1180.0 L2049.0 1180.0 L2051.0 1180.1 L2053.0 1180.1 L2055.0 1180.1 L2057.0 1180.0 L2059.0 1180.0 L2061.0 1179.9 L2063.0 1179.8 L2065.0 1179.7 L2067.0 1179.6 L2069.0 1179.4 L2071.0 1179.2 L2073.0 1179.0 L2075.0 1178.8" fill="none" stroke="#00ff00" stroke-width="3.2" stroke-linejoin="round" stroke-linecap="round"/>
<path d="M290.5 1178.8 L292.4 1179.2 L294.4 1179.5 L296.4 1179.9 L298.3 1180.2 L300.3 1180.5 L302.2 1180.8 L304.2 1181.1 L306.2 1181.3 L308.1 1181.6 L310.1 1181.8 L312.1 1182.0 L314.1 1182.3 L316.1 1182.5 L318.0 1182.6 L320.0 1182.8 L322.0 1183.0 L324.0 1183.1 L326.0 1183.3 L328.0 1183.4 L330.0 1183.5 L332.0 1183.6 L334.0 1183.7 L336.0 1183.8 L338.0 1183.9 L340.0 1184.0 L342.0 1184.1 L344.0 1184.2 L346.0 1184.2 L348.0 1184.3 L350.0 1184.4 L352.1 1184.4 L354.1 1184.5 L356.1 1184.5 L358.1 1184.6 L360.1 1184.6 L362.1 1184.7 L364.1 1184.7 L366.1 1184.7 L368.1 1184.8 L370.1 1184.8 L372.2 1184.9 L374.2 1184.9 L376.2 1185.0 L378.2 1185.0 L380.2 1185.0 L382.2 1185.1 L384.2 1185.1 L386.2 1185.2 L388.2 1185.2 L390.2 1185.3 L392.2 1185.3 L394.2 1185.4 L396.3 1185.4 L398.3 1185.5 L400.3 1185.5 L402.3 1185.6 L404.3 1185.6 L406.3 1185.7 L408.3 1185.7 L410.3 1185.7 L412.3 1185.8 L414.3 1185.8 L416.3 1185.8 L418.3 1185.8 L420.3 1185.9 L422.3 1185.9 L424.3 1185.9 L426.3 1185.9 L428.3 1185.9 L430.3 1185.9 L432.3 1185.8 L434.3 1185.8 L436.3 1185.8 L438.3 1185.8 L440.3 1185.7 L442.3 1185.7 L444.3 1185.6 L446.3 1185.5 L448.3 1185.5 L450.3 1185.4 L452.3 1185.3 L454.3 1185.2 L456.3 1185.1 L458.3 1185.0 L460.3 1184.9 L462.2 1184.7 L464.2 1184.6 L466.2 1184.4 L468.2 1184.2 L470.2 1184.1 L472.2 1183.9 L474.2 1183.7 L476.2 1183.5 L478.2 1183.2 L480.2 1183.0 L482.2 1182.8 L484.2 1182.5 L486.2 1182.3 L488.2 1182.0 L490.1 1181.7 L492.1 1181.4 L494.1 1181.1 L496.1 1180.8 L498.1 1180.5 L500.1 1180.1 L502.0 1179.8 L504.0 1179.4 L506.0 1179.1 L508.0 1178.7 L509.9 1178.3 L511.9 1177.9 L513.9 1177.5 L515.8 1177.1 L517.8 1176.7 L519.8 1176.2 L521.7 1175.8 L523.7 1175.3 L525.6 1174.8 L527.6 1174.4 L529.5 1173.9 L531.5 1173.4 L533.4 1172.8 L535.3 1172.3 L537.3 1171.8 L539.2 1171.2 L541.1 1170.7 L543.1 1170.1 L545.0 1169.5 L546.9 1168.9 L548.8 1168.3 L550.7 1167.7 L552.6 1167.1 L554.5 1166.5 L556.4 1165.8 L558.3 1165.2 L560.2 1164.5 L562.1 1163.8 L564.0 1163.1 L565.9 1162.4 L567.8 1161.7 L569.6 1161.0 L571.5 1160.3 L573.4 1159.5 L575.2 1158.8 L577.1 1158.0 L578.9 1157.2 L580.8 1156.4 L582.6 1155.7 L584.4 1154.8 L586.3 1154.0 L588.1 1153.2 L589.9 1152.4 L591.7 1151.5 L593.5 1150.6 L595.3 1149.8 L597.1 1148.9 L598.9 1148.0 L600.7 1147.1 L602.5 1146.2 L604.3 1145.3 L606.1 1144.4 L607.8 1143.5 L609.6 1142.5 L611.4 1141.6 L613.1 1140.6 L614.9 1139.7 L616.6 1138.7 L618.4 1137.7 L620.1 1136.7 L621.8 1135.7 L623.5 1134.7 L625.3 1133.7 L627.0 1132.7 L628.7 1131.7 L630.4 1130.6 L632.1 1129.6 L633.8 1128.5 L635.4 1127.4 L637.1 1126.3 L638.8 1125.2 L640.4 1124.1 L642.1 1123.0 L643.7 1121.8 L645.3 1120.7 L647.0 1119.5 L648.6 1118.3 L650.2 1117.0 L651.8 1115.8 L653.4 1114.5 L654.9 1113.3 L656.5 1112.0 L658.0 1110.6 L659.5 1109.3 L661.1 1108.0 L662.6 1106.6 L664.0 1105.2 L665.5 1103.8 L666.9 1102.4 L668.3 1100.9 L669.7 1099.5 L671.1 1098.0 L672.5 1096.5 L673.8 1095.0 L675.1 1093.4 L676.4 1091.9 L677.6 1090.3 L678.9 1088.7 L680.1 1087.1 L681.2 1085.5 L682.4 1083.8 L683.5 1082.1 L684.5 1080.5 L685.6 1078.8 L686.6 1077.0 L687.6 1075.3 L688.5 1073.5 L689.4 1071.8 L690.3 1070.0 L691.2 1068.2 L692.0 1066.4 L692.8 1064.5 L693.6 1062.7 L694.4 1060.8 L695.1 1059.0 L695.8 1057.1 L696.6 1055.2 L697.3 1053.3 L697.9 1051.4 L698.6 1049.5 L699.3 1047.6 L699.9 1045.7 L700.6 1043.8 L701.2 1041.9 L701.9 1040.0 L702.5 1038.1 L703.1 1036.2 L703.8 1034.3 L704.4 1032.4 L705.0 1030.4 L705.6 1028.5 L706.2 1026.6 L706.8 1024.7 L707.4 1022.8 L708.0 1020.9 L708.6 1018.9 L709.2 1017.0 L709.8 1015.1 L710.3 1013.2 L710.9 1011.2 L711.5 1009.3 L712.1 1007.4 L712.6 1005.5 L713.2 1003.6 L713.8 1001.6 L714.3 999.7 L714.9 997.8 L715.4 995.9 L716.0 993.9 L716.5 992.0 L717.1 990.1 L717.6 988.1 L718.1 986.2 L718.7 984.3 L719.2 982.4 L719.7 980.4 L720.3 978.5 L720.8 976.6 L721.3 974.6 L721.8 972.7 L722.3 970.8 L722.9 968.8 L723.4 966.9 L723.9 965.0 L724.4 963.0 L724.9 961.1 L725.4 959.2 L725.9 957.2 L726.4 955.3 L726.9 953.4 L727.4 951.4 L727.9 949.5 L728.4 947.5 L728.9 945.6 L729.4 943.7 L729.9 941.7 L730.4 939.8 L730.9 937.9 L731.4 935.9 L731.9 934.0 L732.4 932.0 L732.9 930.1 L733.4 928.2 L733.9 926.2 L734.4 924.3 L734.8 922.4 L735.3 920.4 L735.8 918.5 L736.3 916.5 L736.8 914.6 L737.3 912.7 L737.8 910.7 L738.3 908.8 L738.8 906.8 L739.2 904.9 L739.7 903.0 L740.2 901.0 L740.7 899.1 L741.2 897.2 L741.7 895.2 L742.2 893.3 L742.7 891.3 L743.2 889.4 L743.7 887.5 L744.2 885.5 L744.7 883.6 L745.2 881.7 L745.7 879.7 L746.2 877.8 L746.7 875.8 L747.2 873.9 L747.7 872.0 L748.2 870.0 L748.7 868.1 L749.2 866.2 L749.7 864.2 L750.2 862.3 L750.7 860.4 L751.3 858.4 L751.8 856.5 L752.3 854.6 L752.8 852.6 L753.3 850.7 L753.9 848.8 L754.4 846.8 L754.9 844.9 L755.5 843.0 L756.0 841.0 L756.5 839.1 L757.1 837.2 L757.6 835.2 L758.2 833.3 L758.7 831.4 L759.3 829.4 L759.8 827.5 L760.4 825.6 L761.0 823.7 L761.5 821.7 L762.1 819.8 L762.7 817.9 L763.3 816.0 L763.8 814.0 L764.4 812.1 L765.0 810.2 L765.6 808.3 L766.2 806.3 L766.8 804.4 L767.4 802.5 L768.0 800.6 L768.6 798.7 L769.2 796.8 L769.9 794.8 L770.5 792.9 L771.1 791.0 L771.7 789.1 L772.4 787.2 L773.0 785.3 L773.7 783.4 L774.3 781.4 L775.0 779.5 L775.6 777.6 L776.3 775.7 L777.0 773.8 L777.6 771.9 L778.3 770.0 L779.0 768.1 L779.7 766.2 L780.4 764.3 L781.1 762.5 L781.8 760.6 L782.5 758.7 L783.3 756.8 L784.0 754.9 L784.7 753.0 L785.5 751.2 L786.2 749.3 L786.9 747.4 L787.7 745.6 L788.5 743.7 L789.2 741.8 L790.0 740.0 L790.8 738.1 L791.6 736.3 L792.4 734.4 L793.2 732.6 L794.0 730.7 L794.8 728.9 L795.6 727.1 L796.5 725.2 L797.3 723.4 L798.2 721.6 L799.0 719.8 L799.9 718.0 L800.7 716.2 L801.6 714.4 L802.5 712.6 L803.4 710.8 L804.3 709.0 L805.2 707.2 L806.1 705.4 L807.0 703.6 L808.0 701.9 L808.9 700.1 L809.8 698.3 L810.8 696.6 L811.8 694.8 L812.7 693.1 L813.7 691.4 L814.7 689.6 L815.7 687.9 L816.7 686.2 L817.7 684.5 L818.7 682.7 L819.8 681.0 L820.8 679.3 L821.9 677.7 L822.9 676.0 L824.0 674.3 L825.1 672.6 L826.2 670.9 L827.3 669.3 L828.4 667.6 L829.5 666.0 L830.6 664.3 L831.8 662.7 L832.9 661.1 L834.1 659.5 L835.3 657.8 L836.4 656.2 L837.6 654.6 L838.8 653.0 L840.0 651.5 L841.2 649.9 L842.5 648.3 L843.7 646.7 L845.0 645.2 L846.2 643.6 L847.5 642.1 L848.8 640.6 L850.1 639.1 L851.4 637.5 L852.7 636.0 L854.0 634.5 L855.4 633.0 L856.7 631.5 L858.1 630.1 L859.4 628.6 L860.8 627.1 L862.2 625.7 L863.6 624.2 L865.0 622.8 L866.4 621.3 L867.8 619.9 L869.2 618.5 L870.6 617.1 L872.0 615.6 L873.5 614.2 L874.9 612.8 L876.4 611.4 L877.8 610.0 L879.3 608.7 L880.7 607.3 L882.2 605.9 L883.7 604.5 L885.2 603.2 L886.6 601.8 L888.1 600.5 L889.6 599.1 L891.1 597.8 L892.6 596.4 L894.1 595.1 L895.6 593.8 L897.1 592.4 L898.6 591.1 L900.1 589.8 L901.6 588.5 L903.2 587.2 L904.7 585.9 L906.2 584.6 L907.7 583.3 L909.3 582.0 L910.8 580.7 L912.3 579.5 L913.9 578.2 L915.4 577.0 L917.0 575.7 L918.6 574.5 L920.1 573.2 L921.7 572.0 L923.3 570.8 L924.9 569.6 L926.5 568.4 L928.1 567.2 L929.7 566.0 L931.3 564.8 L932.9 563.7 L934.5 562.5 L936.1 561.4 L937.8 560.2 L939.4 559.1 L941.1 558.0 L942.7 556.9 L944.4 555.8 L946.1 554.7 L947.7 553.6 L949.4 552.6 L951.1 551.5 L952.8 550.5 L954.5 549.5 L956.3 548.4 L958.0 547.4 L959.7 546.5 L961.4 545.5 L963.2 544.5 L964.9 543.6 L966.7 542.6 L968.5 541.7 L970.2 540.8 L972.0 539.9 L973.8 538.9 L975.5 538.0 L977.3 537.1 L979.1 536.1 L980.8 535.2 L982.6 534.2 L984.3 533.2 L986.1 532.3 L987.8 531.3 L989.6 530.3 L991.3 529.3 L993.1 528.4 L994.9 527.4 L996.6 526.5 L998.4 525.6 L1000.2 524.6 L1001.9 523.8 L1003.7 522.9 L1005.5 522.1 L1007.3 521.3 L1009.1 520.5 L1011.0 519.8 L1012.8 519.1 L1014.7 518.4 L1016.5 517.8 L1018.4 517.2 L1020.3 516.7 L1022.2 516.2 L1024.1 515.8 L1026.1 515.4 L1028.0 515.1 L1029.9 514.8 L1031.9 514.5 L1033.8 514.3 L1035.8 514.2 L1037.8 514.1 L1039.7 514.0 L1041.7 514.0 L1043.7 514.0 L1045.7 514.0 L1047.7 514.2 L1049.6 514.3 L1051.6 514.5 L1053.6 514.8 L1055.6 515.1 L1057.5 515.4 L1059.5 515.8 L1061.5 516.2 L1063.4 516.7 L1065.4 517.2 L1067.3 517.7 L1069.3 518.3 L1071.2 518.9 L1073.1 519.6 L1075.0 520.3 L1076.9 521.0 L1078.8 521.7 L1080.7 522.4 L1082.6 523.2 L1084.5 524.0 L1086.3 524.8 L1088.2 525.6 L1090.1 526.4 L1091.9 527.2 L1093.7 528.0 L1095.6 528.8 L1097.4 529.6 L1099.3 530.4 L1101.1 531.1 L1103.0 531.8 L1104.8 532.5 L1106.7 533.1 L1108.6 533.7 L1110.5 534.3 L1112.4 534.8 L1114.3 535.2 L1116.2 535.7 L1118.1 536.1 L1120.1 536.5 L1122.0 536.9 L1124.0 537.2 L1125.9 537.5 L1127.9 537.8 L1129.8 538.0 L1131.8 538.3 L1133.8 538.5 L1135.8 538.7 L1137.7 538.8 L1139.7 539.0 L1141.7 539.2 L1143.7 539.3 L1145.7 539.4 L1147.7 539.5 L1149.7 539.6 L1151.7 539.7 L1153.7 539.8 L1155.7 539.9 L1157.7 540.0 L1159.8 540.1 L1161.8 540.1 L1163.8 540.2 L1165.8 540.3 L1167.8 540.4 L1169.8 540.5 L1171.8 540.6 L1173.8 540.7 L1175.8 540.8 L1177.9 540.9 L1179.9 541.0 L1181.9 541.2 L1183.9 541.4 L1185.9 541.5 L1187.8 541.7 L1189.8 542.0 L1191.8 542.2 L1193.8 542.5 L1195.8 542.7 L1197.7 543.0 L1199.7 543.4 L1201.7 543.7 L1203.6 544.1 L1205.6 544.5 L1207.5 545.0 L1208.9 546.5 L1210.2 548.0 L1211.5 549.5 L1212.8 551.1 L1214.0 552.7 L1215.2 554.3 L1216.3 555.9 L1217.4 557.6 L1218.5 559.2 L1219.6 560.9 L1220.6 562.6 L1221.6 564.3 L1222.5 566.0 L1223.5 567.8 L1224.4 569.5 L1225.2 571.3 L1226.1 573.1 L1226.9 574.9 L1227.8 576.7 L1228.5 578.5 L1229.3 580.3 L1230.1 582.2 L1230.8 584.0 L1231.6 585.9 L1232.3 587.7 L1233.0 589.6 L1233.7 591.5 L1234.4 593.3 L1235.0 595.2 L1235.7 597.1 L1236.4 599.0 L1237.0 600.9 L1237.7 602.8 L1238.3 604.7 L1238.9 606.6 L1239.5 608.5 L1240.1 610.4 L1240.8 612.3 L1241.3 614.2 L1241.9 616.1 L1242.5 618.0 L1243.1 620.0 L1243.6 621.9 L1244.2 623.8 L1244.8 625.7 L1245.3 627.7 L1245.8 629.6 L1246.4 631.5 L1246.9 633.5 L1247.4 635.4 L1247.9 637.4 L1248.4 639.3 L1248.9 641.3 L1249.4 643.2 L1249.9 645.2 L1250.4 647.1 L1250.8 649.1 L1251.3 651.0 L1251.8 653.0 L1252.2 655.0 L1252.7 656.9 L1253.1 658.9 L1253.6 660.8 L1254.0 662.8 L1254.5 664.8 L1254.9 666.7 L1255.3 668.7 L1255.7 670.7 L1256.2 672.7 L1256.6 674.6 L1257.0 676.6 L1257.4 678.6 L1257.8 680.5 L1258.2 682.5 L1258.6 684.5 L1259.0 686.4 L1259.4 688.4 L1259.8 690.4 L1260.1 692.4 L1260.5 694.3 L1260.9 696.3 L1261.3 698.3 L1261.7 700.3 L1262.0 702.2 L1262.4 704.2 L1262.8 706.2 L1263.2 708.1 L1263.5 710.1 L1263.9 712.1 L1264.3 714.0 L1264.7 716.0 L1265.0 718.0 L1265.4 720.0 L1265.8 721.9 L1266.2 723.9 L1266.5 725.9 L1266.9 727.8 L1267.3 729.8 L1267.7 731.8 L1268.1 733.7 L1268.5 735.7 L1268.9 737.6 L1269.3 739.6 L1269.7 741.6 L1270.1 743.5 L1270.5 745.5 L1270.9 747.4 L1271.3 749.4 L1271.7 751.3 L1272.1 753.3 L1272.6 755.3 L1273.0 757.2 L1273.4 759.2 L1273.9 761.1 L1274.3 763.1 L1274.8 765.0 L1275.2 766.9 L1275.7 768.9 L1276.2 770.8 L1276.7 772.8 L1277.1 774.7 L1277.6 776.6 L1278.1 778.6 L1278.6 780.5 L1279.2 782.4 L1279.7 784.4 L1280.2 786.3 L1280.8 788.2 L1281.3 790.1 L1281.9 792.1 L1282.4 794.0 L1283.0 795.9 L1283.6 797.8 L1284.2 799.7 L1284.8 801.6 L1285.4 803.5 L1286.0 805.4 L1286.6 807.4 L1287.3 809.3 L1287.9 811.2 L1288.5 813.1 L1289.2 815.0 L1289.8 816.9 L1290.5 818.8 L1291.1 820.7 L1291.8 822.6 L1292.4 824.5 L1293.1 826.4 L1293.7 828.3 L1294.4 830.2 L1295.1 832.1 L1295.7 834.0 L1296.4 835.9 L1297.0 837.8 L1297.7 839.7 L1298.4 841.6 L1299.0 843.5 L1299.7 845.4 L1300.3 847.3 L1301.0 849.2 L1301.6 851.1 L1302.3 853.0 L1302.9 854.9 L1303.6 856.8 L1304.2 858.7 L1304.9 860.6 L1305.5 862.5 L1306.2 864.4 L1306.9 866.3 L1307.5 868.2 L1308.2 870.1 L1308.9 872.0 L1309.6 873.9 L1310.2 875.7 L1310.9 877.6 L1311.6 879.5 L1312.3 881.4 L1313.0 883.3 L1313.7 885.2 L1314.4 887.0 L1315.2 888.9 L1315.9 890.8 L1316.6 892.7 L1317.4 894.5 L1318.1 896.4 L1318.9 898.3 L1319.6 900.1 L1320.4 902.0 L1321.2 903.8 L1322.0 905.7 L1322.8 907.5 L1323.6 909.4 L1324.4 911.2 L1325.2 913.0 L1326.1 914.9 L1326.9 916.7 L1327.8 918.5 L1328.6 920.3 L1329.5 922.1 L1330.4 923.9 L1331.3 925.8 L1332.2 927.6 L1333.1 929.3 L1334.0 931.1 L1334.9 932.9 L1335.8 934.7 L1336.8 936.5 L1337.7 938.3 L1338.7 940.0 L1339.6 941.8 L1340.6 943.5 L1341.6 945.3 L1342.6 947.0 L1343.6 948.8 L1344.6 950.5 L1345.6 952.2 L1346.6 954.0 L1347.7 955.7 L1348.7 957.4 L1349.8 959.1 L1350.8 960.8 L1351.9 962.5 L1353.0 964.2 L1354.1 965.9 L1355.2 967.5 L1356.3 969.2 L1357.4 970.9 L1358.5 972.5 L1359.7 974.2 L1360.8 975.8 L1362.0 977.5 L1363.1 979.1 L1364.3 980.7 L1365.5 982.3 L1366.7 983.9 L1367.9 985.5 L1369.1 987.1 L1370.3 988.7 L1371.5 990.3 L1372.7 991.8 L1374.0 993.4 L1375.2 995.0 L1376.5 996.5 L1377.8 998.0 L1379.1 999.6 L1380.3 1001.1 L1381.6 1002.6 L1383.0 1004.1 L1384.3 1005.6 L1385.6 1007.1 L1386.9 1008.6 L1388.3 1010.0 L1389.6 1011.5 L1391.0 1013.0 L1392.4 1014.4 L1393.8 1015.8 L1395.1 1017.3 L1396.6 1018.7 L1398.0 1020.1 L1399.4 1021.5 L1400.8 1022.9 L1402.3 1024.2 L1403.7 1025.6 L1405.2 1027.0 L1406.6 1028.3 L1408.1 1029.7 L1409.6 1031.0 L1411.1 1032.3 L1412.6 1033.6 L1414.1 1034.9 L1415.6 1036.2 L1417.2 1037.5 L1418.7 1038.7 L1420.3 1040.0 L1421.8 1041.2 L1423.4 1042.5 L1425.0 1043.7 L1426.6 1044.9 L1428.2 1046.1 L1429.8 1047.3 L1431.4 1048.5 L1433.0 1049.7 L1434.7 1050.8 L1436.3 1052.0 L1438.0 1053.1 L1439.6 1054.3 L1441.3 1055.4 L1443.0 1056.5 L1444.6 1057.6 L1446.3 1058.7 L1448.0 1059.8 L1449.7 1060.9 L1451.4 1061.9 L1453.1 1063.0 L1454.9 1064.0 L1456.6 1065.1 L1458.3 1066.1 L1460.1 1067.1 L1461.8 1068.1 L1463.6 1069.1 L1465.3 1070.1 L1467.1 1071.1 L1468.9 1072.1 L1470.7 1073.1 L1472.4 1074.0 L1474.2 1075.0 L1476.0 1075.9 L1477.8 1076.8 L1479.6 1077.8 L1481.4 1078.7 L1483.2 1079.6 L1485.1 1080.5 L1486.9 1081.4 L1488.7 1082.3 L1490.5 1083.1 L1492.4 1084.0 L1494.2 1084.9 L1496.0 1085.7 L1497.9 1086.6 L1499.7 1087.4 L1501.6 1088.3 L1503.4 1089.1 L1505.3 1089.9 L1507.1 1090.7 L1509.0 1091.5 L1510.9 1092.3 L1512.7 1093.1 L1514.6 1093.9 L1516.4 1094.6 L1518.3 1095.4 L1520.2 1096.2 L1522.1 1096.9 L1523.9 1097.7 L1525.8 1098.4 L1527.7 1099.2 L1529.6 1099.9 L1531.4 1100.6 L1533.3 1101.3 L1535.2 1102.0 L1537.1 1102.7 L1538.9 1103.4 L1540.8 1104.1 L1542.7 1104.8 L1544.6 1105.5 L1546.5 1106.2 L1548.3 1106.8 L1550.2 1107.5 L1552.1 1108.1 L1554.0 1108.8 L1555.9 1109.4 L1557.8 1110.1 L1559.7 1110.7 L1561.5 1111.3 L1563.4 1112.0 L1565.3 1112.6 L1567.2 1113.2 L1569.1 1113.8 L1571.0 1114.4 L1572.9 1115.0 L1574.8 1115.6 L1576.7 1116.2 L1578.6 1116.7 L1580.5 1117.3 L1582.4 1117.9 L1584.3 1118.4 L1586.2 1119.0 L1588.1 1119.5 L1590.0 1120.1 L1592.0 1120.6 L1593.9 1121.2 L1595.8 1121.7 L1597.7 1122.2 L1599.6 1122.8 L1601.5 1123.3 L1603.5 1123.8 L1605.4 1124.3 L1607.3 1124.8 L1609.2 1125.3 L1611.2 1125.8 L1613.1 1126.3 L1615.0 1126.8 L1617.0 1127.3 L1618.9 1127.8 L1620.9 1128.2 L1622.8 1128.7 L1624.7 1129.2 L1626.7 1129.6 L1628.6 1130.1 L1630.6 1130.5 L1632.5 1131.0 L1634.5 1131.4 L1636.4 1131.9 L1638.4 1132.3 L1640.4 1132.7 L1642.3 1133.2 L1644.3 1133.6 L1646.2 1134.0 L1648.2 1134.4 L1650.2 1134.8 L1652.1 1135.2 L1654.1 1135.6 L1656.1 1136.0 L1658.0 1136.4 L1660.0 1136.8 L1662.0 1137.2 L1663.9 1137.6 L1665.9 1138.0 L1667.9 1138.4 L1669.9 1138.7 L1671.9 1139.1 L1673.8 1139.5 L1675.8 1139.8 L1677.8 1140.2 L1679.8 1140.5 L1681.8 1140.9 L1683.7 1141.2 L1685.7 1141.6 L1687.7 1141.9 L1689.7 1142.3 L1691.7 1142.6 L1693.7 1142.9 L1695.7 1143.2 L1697.6 1143.6 L1699.6 1143.9 L1701.6 1144.2 L1703.6 1144.5 L1705.6 1144.8 L1707.6 1145.1 L1709.6 1145.4 L1711.6 1145.7 L1713.6 1146.0 L1715.6 1146.3 L1717.6 1146.6 L1719.5 1146.9 L1721.5 1147.1 L1723.5 1147.4 L1725.5 1147.7 L1727.5 1148.0 L1729.5 1148.2 L1731.5 1148.5 L1733.5 1148.8 L1735.5 1149.0 L1737.5 1149.3 L1739.5 1149.5 L1741.5 1149.8 L1743.5 1150.0 L1745.5 1150.3 L1747.5 1150.5 L1749.5 1150.7 L1751.5 1151.0 L1753.4 1151.2 L1755.4 1151.4 L1757.4 1151.6 L1759.4 1151.9 L1761.4 1152.1 L1763.4 1152.3 L1765.4 1152.5 L1767.4 1152.7 L1769.4 1152.9 L1771.4 1153.1 L1773.4 1153.3 L1775.4 1153.5 L1777.3 1153.7 L1779.3 1153.9 L1781.3 1154.1 L1783.3 1154.3 L1785.3 1154.5 L1787.3 1154.7 L1789.3 1154.9 L1791.3 1155.1 L1793.3 1155.3 L1795.2 1155.4 L1797.2 1155.6 L1799.2 1155.8 L1801.2 1156.0 L1803.2 1156.2 L1805.2 1156.3 L1807.2 1156.5 L1809.2 1156.7 L1811.2 1156.9 L1813.2 1157.0 L1815.1 1157.2 L1817.1 1157.4 L1819.1 1157.6 L1821.1 1157.7 L1823.1 1157.9 L1825.1 1158.1 L1827.1 1158.3 L1829.1 1158.4 L1831.1 1158.6 L1833.1 1158.8 L1835.1 1158.9 L1837.1 1159.1 L1839.1 1159.3 L1841.0 1159.5 L1843.0 1159.6 L1845.0 1159.8 L1847.0 1160.0 L1849.0 1160.2 L1851.0 1160.3 L1853.0 1160.5 L1855.0 1160.7 L1857.0 1160.9 L1859.0 1161.0 L1861.0 1161.2 L1863.0 1161.4 L1865.0 1161.6 L1867.0 1161.8 L1869.0 1161.9 L1871.0 1162.1 L1873.0 1162.3 L1875.0 1162.5 L1877.0 1162.6 L1879.0 1162.8 L1881.0 1163.0 L1883.0 1163.2 L1885.0 1163.4 L1887.0 1163.5 L1889.0 1163.7 L1891.0 1163.9 L1893.0 1164.1 L1895.0 1164.2 L1897.0 1164.4 L1899.0 1164.6 L1901.0 1164.8 L1903.0 1164.9 L1905.0 1165.1 L1907.0 1165.3 L1909.0 1165.5 L1911.0 1165.6 L1913.0 1165.8 L1915.0 1166.0 L1917.0 1166.1 L1919.0 1166.3 L1921.0 1166.5 L1923.0 1166.7 L1925.0 1166.8 L1927.0 1167.0 L1929.0 1167.2 L1931.0 1167.3 L1933.0 1167.5 L1935.0 1167.6 L1937.0 1167.8 L1939.0 1168.0 L1941.0 1168.1 L1943.0 1168.3 L1945.0 1168.4 L1947.0 1168.6 L1949.0 1168.8 L1951.0 1168.9 L1953.0 1169.1 L1955.0 1169.2 L1957.0 1169.4 L1959.0 1169.5 L1961.0 1169.7 L1963.0 1169.8 L1965.0 1170.0 L1967.0 1170.1 L1969.0 1170.3 L1971.0 1170.4 L1973.0 1170.6 L1975.0 1170.7 L1977.0 1170.9 L1979.0 1171.0 L1981.0 1171.2 L1983.0 1171.3 L1985.0 1171.5 L1987.0 1171.6 L1989.0 1171.8 L1991.0 1171.9 L1993.0 1172.0 L1995.0 1172.2 L1997.0 1172.3 L1999.0 1172.5 L2001.0 1172.6 L2003.0 1172.8 L2005.0 1172.9 L2006.9 1173.0 L2008.9 1173.2 L2010.9 1173.3 L2012.9 1173.4 L2014.9 1173.6 L2016.9 1173.7 L2018.9 1173.8 L2020.9 1174.0 L2022.9 1174.1 L2024.9 1174.2 L2026.9 1174.4 L2028.9 1174.5 L2030.9 1174.6 L2032.9 1174.8 L2034.9 1174.9 L2036.9 1175.0 L2038.9 1175.2 L2040.9 1175.3 L2042.9 1175.4 L2044.9 1175.5 L2046.9 1175.7 L2048.9 1175.8 L2051.0 1175.9 L2053.0 1176.0 L2055.0 1176.2 L2057.0 1176.3 L2059.0 1176.4 L2061.0 1176.5 L2063.0 1176.7 L2065.0 1176.8 L2067.0 1176.9 L2069.0 1177.0 L2071.0 1177.2 L2073.0 1177.3 L2075.0 1177.4" fill="none" stroke="#0000ff" stroke-width="3.2" stroke-linejoin="round" stroke-linecap="round"/>
<path d="M290.5 1178.8 L292.5 1179.1 L294.5 1179.4 L296.5 1179.7 L298.5 1180.0 L300.5 1180.3 L302.5 1180.5 L304.5 1180.7 L306.4 1180.9 L308.4 1181.0 L310.4 1181.2 L312.4 1181.3 L314.4 1181.4 L316.4 1181.5 L318.4 1181.6 L320.4 1181.7 L322.4 1181.7 L324.4 1181.8 L326.4 1181.8 L328.4 1181.8 L330.4 1181.9 L332.4 1181.9 L334.4 1181.8 L336.5 1181.8 L338.5 1181.8 L340.5 1181.8 L342.5 1181.7 L344.5 1181.7 L346.5 1181.6 L348.5 1181.6 L350.5 1181.5 L352.5 1181.5 L354.5 1181.4 L356.5 1181.4 L358.5 1181.3 L360.5 1181.3 L362.5 1181.2 L364.5 1181.1 L366.5 1181.1 L368.5 1181.0 L370.5 1181.0 L372.5 1181.0 L374.5 1180.9 L376.5 1180.9 L378.5 1180.9 L380.5 1180.9 L382.5 1180.9 L384.5 1180.9 L386.5 1180.9 L388.5 1180.9 L390.5 1180.9 L392.5 1181.0 L394.5 1181.0 L396.5 1181.0 L398.5 1181.1 L400.5 1181.1 L402.5 1181.1 L404.5 1181.1 L406.5 1181.2 L408.5 1181.2 L410.5 1181.2 L412.4 1181.2 L414.4 1181.2 L416.4 1181.1 L418.4 1181.1 L420.4 1181.0 L422.4 1181.0 L424.4 1180.9 L426.4 1180.8 L428.4 1180.6 L430.4 1180.5 L432.4 1180.3 L434.4 1180.1 L436.4 1179.9 L438.4 1179.6 L440.4 1179.3 L442.4 1179.0 L444.4 1178.7 L446.3 1178.3 L448.3 1178.0 L450.3 1177.5 L452.3 1177.1 L454.2 1176.6 L456.2 1176.1 L458.1 1175.6 L460.0 1175.0 L461.9 1174.4 L463.8 1173.7 L465.7 1173.1 L467.6 1172.4 L469.4 1171.7 L471.3 1170.9 L473.1 1170.1 L474.9 1169.3 L476.7 1168.5 L478.5 1167.6 L480.3 1166.7 L482.1 1165.8 L483.8 1164.8 L485.6 1163.8 L487.3 1162.8 L489.0 1161.8 L490.7 1160.8 L492.4 1159.7 L494.1 1158.6 L495.7 1157.5 L497.4 1156.3 L499.0 1155.2 L500.6 1154.0 L502.2 1152.8 L503.8 1151.5 L505.4 1150.3 L506.9 1149.0 L508.5 1147.7 L510.0 1146.4 L511.5 1145.1 L513.0 1143.8 L514.5 1142.4 L516.0 1141.0 L517.5 1139.7 L518.9 1138.3 L520.3 1136.8 L521.7 1135.4 L523.1 1133.9 L524.5 1132.5 L525.9 1131.0 L527.2 1129.5 L528.6 1128.0 L529.9 1126.5 L531.2 1125.0 L532.5 1123.4 L533.8 1121.9 L535.0 1120.3 L536.3 1118.8 L537.5 1117.2 L538.7 1115.6 L539.9 1114.0 L541.1 1112.4 L542.3 1110.8 L543.4 1109.2 L544.6 1107.6 L545.7 1105.9 L546.8 1104.3 L547.9 1102.6 L549.0 1101.0 L550.1 1099.3 L551.2 1097.6 L552.2 1095.9 L553.3 1094.2 L554.3 1092.5 L555.3 1090.8 L556.3 1089.1 L557.3 1087.4 L558.3 1085.7 L559.3 1083.9 L560.3 1082.2 L561.3 1080.4 L562.2 1078.7 L563.2 1076.9 L564.1 1075.2 L565.0 1073.4 L566.0 1071.6 L566.9 1069.9 L567.8 1068.1 L568.7 1066.3 L569.6 1064.5 L570.5 1062.7 L571.3 1060.9 L572.2 1059.1 L573.1 1057.3 L573.9 1055.5 L574.8 1053.7 L575.6 1051.8 L576.5 1050.0 L577.3 1048.2 L578.2 1046.4 L579.0 1044.5 L579.8 1042.7 L580.7 1040.9 L581.5 1039.0 L582.3 1037.2 L583.1 1035.4 L583.9 1033.5 L584.8 1031.7 L585.6 1029.9 L586.4 1028.0 L587.2 1026.2 L588.0 1024.3 L588.8 1022.5 L589.6 1020.6 L590.4 1018.8 L591.2 1016.9 L592.0 1015.1 L592.8 1013.3 L593.6 1011.4 L594.4 1009.6 L595.2 1007.7 L596.0 1005.9 L596.8 1004.1 L597.6 1002.2 L598.4 1000.4 L599.2 998.6 L600.1 996.7 L600.9 994.9 L601.7 993.1 L602.5 991.2 L603.4 989.4 L604.2 987.6 L605.0 985.8 L605.8 984.0 L606.7 982.1 L607.5 980.3 L608.3 978.5 L609.2 976.7 L610.0 974.9 L610.9 973.1 L611.7 971.3 L612.6 969.5 L613.4 967.7 L614.3 965.9 L615.1 964.1 L616.0 962.3 L616.8 960.5 L617.7 958.7 L618.6 956.9 L619.4 955.1 L620.3 953.3 L621.1 951.5 L622.0 949.7 L622.9 947.9 L623.7 946.1 L624.6 944.3 L625.5 942.5 L626.3 940.7 L627.2 938.9 L628.1 937.1 L629.0 935.3 L629.8 933.5 L630.7 931.7 L631.6 929.9 L632.5 928.1 L633.3 926.4 L634.2 924.6 L635.1 922.8 L636.0 921.0 L636.9 919.2 L637.7 917.4 L638.6 915.6 L639.5 913.8 L640.4 912.0 L641.3 910.2 L642.1 908.4 L643.0 906.6 L643.9 904.8 L644.8 903.0 L645.7 901.2 L646.6 899.4 L647.5 897.6 L648.3 895.8 L649.2 894.0 L650.1 892.3 L651.0 890.5 L651.9 888.7 L652.8 886.9 L653.7 885.1 L654.6 883.3 L655.5 881.5 L656.4 879.7 L657.3 877.9 L658.2 876.1 L659.1 874.3 L660.0 872.6 L660.9 870.8 L661.9 869.0 L662.8 867.2 L663.7 865.4 L664.6 863.6 L665.5 861.9 L666.5 860.1 L667.4 858.3 L668.3 856.5 L669.3 854.8 L670.2 853.0 L671.2 851.2 L672.1 849.5 L673.1 847.7 L674.0 845.9 L675.0 844.2 L675.9 842.4 L676.9 840.7 L677.9 838.9 L678.8 837.2 L679.8 835.4 L680.8 833.7 L681.8 831.9 L682.8 830.2 L683.7 828.5 L684.7 826.7 L685.7 825.0 L686.7 823.3 L687.8 821.6 L688.8 819.8 L689.8 818.1 L690.8 816.4 L691.8 814.7 L692.9 813.0 L693.9 811.3 L694.9 809.6 L696.0 807.9 L697.0 806.2 L698.1 804.5 L699.1 802.8 L700.2 801.1 L701.3 799.4 L702.3 797.7 L703.4 796.0 L704.5 794.3 L705.6 792.7 L706.6 791.0 L707.7 789.3 L708.8 787.6 L709.9 786.0 L711.0 784.3 L712.1 782.6 L713.2 781.0 L714.3 779.3 L715.4 777.7 L716.6 776.0 L717.7 774.4 L718.8 772.7 L719.9 771.1 L721.1 769.4 L722.2 767.8 L723.3 766.1 L724.5 764.5 L725.6 762.9 L726.8 761.2 L727.9 759.6 L729.1 758.0 L730.2 756.3 L731.4 754.7 L732.6 753.1 L733.7 751.5 L734.9 749.8 L736.1 748.2 L737.3 746.6 L738.4 745.0 L739.6 743.4 L740.8 741.8 L742.0 740.2 L743.2 738.6 L744.4 736.9 L745.6 735.3 L746.8 733.7 L748.0 732.1 L749.2 730.5 L750.4 729.0 L751.6 727.4 L752.8 725.8 L754.0 724.2 L755.3 722.6 L756.5 721.0 L757.7 719.4 L758.9 717.8 L760.2 716.2 L761.4 714.7 L762.6 713.1 L763.9 711.5 L765.1 709.9 L766.4 708.3 L767.6 706.8 L768.9 705.2 L770.1 703.6 L771.4 702.1 L772.6 700.5 L773.9 698.9 L775.1 697.4 L776.4 695.8 L777.7 694.2 L778.9 692.7 L780.2 691.1 L781.5 689.6 L782.8 688.0 L784.0 686.5 L785.3 684.9 L786.6 683.4 L787.9 681.8 L789.2 680.3 L790.5 678.8 L791.8 677.2 L793.1 675.7 L794.4 674.2 L795.7 672.7 L797.0 671.1 L798.4 669.6 L799.7 668.1 L801.0 666.6 L802.4 665.1 L803.7 663.6 L805.0 662.1 L806.4 660.7 L807.7 659.2 L809.1 657.7 L810.5 656.2 L811.8 654.8 L813.2 653.3 L814.6 651.9 L815.9 650.4 L817.3 649.0 L818.7 647.5 L820.1 646.1 L821.5 644.7 L822.9 643.3 L824.3 641.9 L825.8 640.5 L827.2 639.1 L828.6 637.7 L830.1 636.3 L831.5 634.9 L833.0 633.5 L834.4 632.2 L835.9 630.8 L837.3 629.5 L838.8 628.1 L840.3 626.8 L841.8 625.5 L843.3 624.1 L844.8 622.8 L846.3 621.5 L847.8 620.2 L849.3 619.0 L850.8 617.7 L852.4 616.4 L853.9 615.2 L855.5 613.9 L857.0 612.7 L858.6 611.4 L860.1 610.2 L861.7 609.0 L863.3 607.8 L864.9 606.6 L866.5 605.4 L868.1 604.3 L869.7 603.1 L871.4 601.9 L873.0 600.8 L874.6 599.7 L876.3 598.5 L877.9 597.4 L879.6 596.3 L881.3 595.2 L883.0 594.1 L884.6 593.1 L886.3 592.0 L888.0 591.0 L889.7 589.9 L891.4 588.9 L893.2 587.8 L894.9 586.8 L896.6 585.8 L898.3 584.8 L900.1 583.8 L901.8 582.7 L903.6 581.7 L905.3 580.8 L907.0 579.8 L908.8 578.8 L910.6 577.8 L912.3 576.8 L914.1 575.8 L915.8 574.9 L917.6 573.9 L919.3 572.9 L921.1 572.0 L922.9 571.0 L924.6 570.0 L926.4 569.1 L928.2 568.1 L929.9 567.1 L931.7 566.2 L933.4 565.2 L935.2 564.3 L936.9 563.3 L938.7 562.3 L940.4 561.4 L942.2 560.4 L943.9 559.4 L945.7 558.5 L947.4 557.5 L949.2 556.5 L950.9 555.6 L952.7 554.6 L954.4 553.7 L956.2 552.7 L957.9 551.8 L959.7 550.8 L961.5 549.9 L963.2 548.9 L965.0 548.0 L966.7 547.1 L968.5 546.2 L970.3 545.3 L972.0 544.4 L973.8 543.5 L975.6 542.6 L977.3 541.7 L979.1 540.8 L980.9 539.9 L982.7 539.1 L984.5 538.2 L986.3 537.4 L988.1 536.6 L989.9 535.8 L991.7 535.0 L993.5 534.3 L995.4 533.5 L997.2 532.8 L999.1 532.1 L1000.9 531.5 L1002.8 530.9 L1004.6 530.3 L1006.5 529.7 L1008.4 529.1 L1010.3 528.6 L1012.2 528.1 L1014.1 527.5 L1016.0 527.0 L1017.9 526.5 L1019.8 526.0 L1021.7 525.5 L1023.7 525.0 L1025.6 524.4 L1027.5 523.9 L1029.4 523.3 L1031.3 522.8 L1033.2 522.2 L1035.2 521.7 L1037.1 521.1 L1039.0 520.6 L1041.0 520.0 L1042.9 519.5 L1044.8 519.0 L1046.8 518.4 L1048.7 518.0 L1050.7 517.5 L1052.6 517.0 L1054.6 516.6 L1056.5 516.2 L1058.5 515.8 L1060.5 515.4 L1062.5 515.1 L1064.4 514.8 L1066.4 514.5 L1068.4 514.3 L1070.4 514.0 L1072.4 513.7 L1074.4 513.5 L1076.4 513.2 L1078.3 512.9 L1080.3 512.6 L1082.3 512.2 L1084.2 511.8 L1086.2 511.4 L1088.1 511.0 L1090.1 510.5 L1092.0 510.0 L1093.9 509.5 L1095.9 508.9 L1097.8 508.4 L1099.7 507.8 L1101.6 507.2 L1103.5 506.6 L1105.5 506.1 L1107.4 505.5 L1109.3 504.9 L1111.2 504.4 L1113.1 503.8 L1115.1 503.3 L1117.0 502.8 L1118.9 502.4 L1120.8 502.0 L1122.8 501.6 L1124.7 501.2 L1126.7 500.8 L1128.6 500.5 L1130.6 500.2 L1132.5 499.9 L1134.5 499.7 L1136.5 499.4 L1138.5 499.2 L1140.4 498.9 L1142.4 498.7 L1144.4 498.5 L1146.4 498.2 L1148.4 498.0 L1150.4 497.8 L1152.3 497.6 L1154.3 497.3 L1156.3 497.1 L1158.3 496.9 L1160.3 496.6 L1162.2 496.3 L1164.2 496.0 L1166.2 495.7 L1168.2 495.4 L1170.1 495.0 L1172.1 494.6 L1174.0 494.3 L1176.0 493.9 L1178.0 493.5 L1179.9 493.1 L1181.9 492.8 L1183.8 492.5 L1185.8 492.2 L1187.8 491.9 L1189.7 491.6 L1191.7 491.4 L1193.7 491.2 L1195.7 491.0 L1197.7 490.8 L1199.7 490.7 L1201.7 490.5 L1203.7 490.4 L1205.7 490.3 L1207.7 490.1 L1209.7 490.0 L1211.6 489.9 L1213.6 489.8 L1215.6 489.6 L1217.6 489.5 L1219.6 489.3 L1221.6 489.2 L1223.6 489.0 L1225.6 488.8 L1227.6 488.6 L1229.6 488.4 L1231.6 488.1 L1233.5 487.8 L1235.5 487.5 L1237.5 487.2 L1239.4 486.9 L1241.4 486.5 L1243.4 486.1 L1245.3 485.7 L1247.3 485.3 L1249.2 484.8 L1251.2 484.4 L1253.1 484.0 L1255.1 483.5 L1257.0 483.0 L1259.0 482.6 L1260.9 482.1 L1262.9 481.7 L1264.8 481.3 L1266.8 480.8 L1268.7 480.4 L1270.7 480.0 L1272.7 479.6 L1274.6 479.2 L1276.6 478.9 L1278.6 478.6 L1280.5 478.3 L1282.5 478.0 L1284.5 477.7 L1286.5 477.5 L1288.4 477.2 L1290.4 477.0 L1292.4 476.8 L1294.4 476.5 L1296.4 476.3 L1298.3 476.0 L1300.3 475.7 L1302.3 475.4 L1304.2 475.1 L1306.2 474.7 L1308.2 474.3 L1310.1 473.9 L1312.0 473.5 L1314.0 473.0 L1315.9 472.5 L1317.9 472.0 L1319.8 471.5 L1321.7 471.0 L1323.7 470.5 L1325.6 470.0 L1327.5 469.5 L1329.5 469.0 L1331.4 468.5 L1333.4 468.1 L1335.3 467.7 L1337.3 467.3 L1339.2 466.9 L1341.2 466.5 L1343.2 466.1 L1345.1 465.7 L1347.1 465.3 L1349.1 465.0 L1351.0 464.7 L1353.0 464.3 L1355.0 464.0 L1356.9 463.7 L1358.9 463.4 L1360.9 463.1 L1362.9 462.8 L1364.9 462.5 L1366.8 462.2 L1368.8 462.0 L1370.8 461.7 L1372.8 461.4 L1374.8 461.2 L1376.7 460.9 L1378.7 460.7 L1380.7 460.4 L1382.7 460.2 L1384.7 459.9 L1386.7 459.7 L1388.6 459.4 L1390.6 459.2 L1392.6 458.9 L1394.6 458.7 L1396.6 458.4 L1398.6 458.2 L1400.5 458.0 L1402.5 457.7 L1404.5 457.4 L1406.5 457.2 L1408.4 456.9 L1410.4 456.7 L1412.4 456.4 L1414.4 456.1 L1416.3 455.8 L1418.3 455.6 L1420.3 455.3 L1422.2 455.0 L1424.2 454.7 L1426.1 454.3 L1428.1 454.0 L1430.1 453.7 L1432.0 453.3 L1434.0 453.0 L1435.9 452.6 L1437.8 452.2 L1439.8 451.8 L1441.7 451.4 L1443.7 450.9 L1445.6 450.5 L1447.5 450.0 L1449.5 449.5 L1451.4 449.0 L1453.3 448.5 L1455.2 448.0 L1457.2 447.5 L1459.1 447.1 L1461.0 446.7 L1463.0 446.3 L1464.9 446.0 L1466.8 445.7 L1468.8 445.5 L1470.7 445.4 L1472.7 445.3 L1474.7 445.2 L1476.6 445.2 L1478.6 445.2 L1480.6 445.2 L1482.6 445.3 L1484.5 445.4 L1486.5 445.6 L1488.5 445.8 L1490.5 446.0 L1492.5 446.2 L1494.5 446.5 L1496.5 446.8 L1498.5 447.1 L1500.5 447.4 L1502.5 447.8 L1504.6 448.1 L1506.6 448.5 L1508.6 448.9 L1510.6 449.3 L1512.7 449.7 L1514.7 450.1 L1516.7 450.6 L1518.7 451.0 L1520.7 451.5 L1522.7 452.1 L1524.6 452.7 L1526.4 453.4 L1528.2 454.1 L1529.9 455.0 L1531.5 455.9 L1533.0 457.0 L1534.4 458.3 L1535.6 459.6 L1536.8 461.1 L1537.8 462.7 L1538.8 464.4 L1539.7 466.2 L1540.5 468.0 L1541.3 469.9 L1542.0 471.7 L1542.8 473.6 L1543.5 475.5 L1544.2 477.3 L1544.9 479.2 L1545.5 481.1 L1546.1 483.0 L1546.8 485.0 L1547.4 486.9 L1547.9 488.8 L1548.5 490.7 L1549.0 492.6 L1549.6 494.6 L1550.1 496.5 L1550.6 498.5 L1551.1 500.4 L1551.6 502.4 L1552.0 504.3 L1552.5 506.3 L1553.0 508.2 L1553.4 510.2 L1553.8 512.1 L1554.3 514.1 L1554.7 516.1 L1555.1 518.0 L1555.6 520.0 L1556.0 522.0 L1556.4 523.9 L1556.8 525.9 L1557.2 527.9 L1557.6 529.8 L1558.1 531.8 L1558.5 533.7 L1558.9 535.7 L1559.3 537.7 L1559.7 539.6 L1560.1 541.6 L1560.6 543.5 L1561.0 545.5 L1561.4 547.5 L1561.8 549.4 L1562.2 551.4 L1562.6 553.3 L1563.0 555.3 L1563.4 557.2 L1563.9 559.2 L1564.3 561.2 L1564.7 563.1 L1565.1 565.1 L1565.5 567.0 L1565.9 569.0 L1566.3 570.9 L1566.7 572.9 L1567.1 574.9 L1567.5 576.8 L1567.9 578.8 L1568.3 580.7 L1568.7 582.7 L1569.1 584.6 L1569.5 586.6 L1569.9 588.5 L1570.3 590.5 L1570.7 592.5 L1571.1 594.4 L1571.5 596.4 L1571.9 598.3 L1572.3 600.3 L1572.7 602.2 L1573.1 604.2 L1573.5 606.2 L1573.8 608.1 L1574.2 610.1 L1574.6 612.0 L1575.0 614.0 L1575.4 616.0 L1575.7 617.9 L1576.1 619.9 L1576.5 621.9 L1576.8 623.8 L1577.2 625.8 L1577.6 627.7 L1577.9 629.7 L1578.3 631.7 L1578.7 633.7 L1579.0 635.6 L1579.4 637.6 L1579.7 639.6 L1580.1 641.5 L1580.4 643.5 L1580.7 645.5 L1581.1 647.4 L1581.4 649.4 L1581.8 651.4 L1582.1 653.4 L1582.4 655.4 L1582.7 657.3 L1583.1 659.3 L1583.4 661.3 L1583.7 663.3 L1584.0 665.3 L1584.4 667.2 L1584.7 669.2 L1585.0 671.2 L1585.3 673.2 L1585.6 675.2 L1585.9 677.2 L1586.2 679.2 L1586.5 681.1 L1586.8 683.1 L1587.2 685.1 L1587.5 687.1 L1587.8 689.1 L1588.1 691.1 L1588.4 693.1 L1588.7 695.0 L1589.0 697.0 L1589.4 699.0 L1589.7 701.0 L1590.0 703.0 L1590.3 705.0 L1590.6 706.9 L1591.0 708.9 L1591.3 710.9 L1591.6 712.9 L1592.0 714.8 L1592.3 716.8 L1592.7 718.8 L1593.0 720.8 L1593.4 722.7 L1593.7 724.7 L1594.1 726.6 L1594.5 728.6 L1594.8 730.6 L1595.2 732.5 L1595.6 734.5 L1596.0 736.4 L1596.4 738.4 L1596.8 740.3 L1597.2 742.3 L1597.6 744.2 L1598.0 746.2 L1598.4 748.1 L1598.9 750.0 L1599.3 752.0 L1599.8 753.9 L1600.2 755.8 L1600.7 757.7 L1601.1 759.7 L1601.6 761.6 L1602.1 763.5 L1602.6 765.4 L1603.0 767.3 L1603.5 769.3 L1604.0 771.2 L1604.5 773.1 L1605.0 775.0 L1605.5 776.9 L1606.0 778.8 L1606.5 780.7 L1607.0 782.6 L1607.5 784.6 L1608.0 786.5 L1608.6 788.4 L1609.1 790.3 L1609.6 792.2 L1610.1 794.1 L1610.6 796.1 L1611.2 798.0 L1611.7 799.9 L1612.2 801.8 L1612.8 803.7 L1613.3 805.6 L1613.8 807.6 L1614.4 809.5 L1614.9 811.4 L1615.5 813.3 L1616.0 815.2 L1616.6 817.1 L1617.1 819.1 L1617.7 821.0 L1618.3 822.9 L1618.8 824.8 L1619.4 826.7 L1620.0 828.6 L1620.6 830.5 L1621.2 832.4 L1621.7 834.4 L1622.3 836.3 L1622.9 838.2 L1623.5 840.1 L1624.1 842.0 L1624.8 843.9 L1625.4 845.8 L1626.0 847.7 L1626.6 849.6 L1627.2 851.5 L1627.9 853.4 L1628.5 855.3 L1629.2 857.2 L1629.8 859.1 L1630.5 860.9 L1631.1 862.8 L1631.8 864.7 L1632.5 866.6 L1633.2 868.5 L1633.8 870.4 L1634.5 872.2 L1635.2 874.1 L1635.9 876.0 L1636.6 877.9 L1637.3 879.7 L1638.1 881.6 L1638.8 883.5 L1639.5 885.3 L1640.2 887.2 L1641.0 889.1 L1641.7 890.9 L1642.5 892.8 L1643.2 894.6 L1644.0 896.5 L1644.7 898.3 L1645.5 900.2 L1646.3 902.0 L1647.1 903.8 L1647.9 905.7 L1648.7 907.5 L1649.5 909.4 L1650.3 911.2 L1651.1 913.0 L1651.9 914.8 L1652.7 916.7 L1653.6 918.5 L1654.4 920.3 L1655.2 922.1 L1656.1 923.9 L1656.9 925.7 L1657.8 927.6 L1658.7 929.4 L1659.5 931.2 L1660.4 933.0 L1661.3 934.8 L1662.2 936.6 L1663.1 938.3 L1664.0 940.1 L1664.9 941.9 L1665.8 943.7 L1666.7 945.5 L1667.7 947.3 L1668.6 949.0 L1669.5 950.8 L1670.5 952.6 L1671.4 954.3 L1672.4 956.1 L1673.4 957.9 L1674.3 959.6 L1675.3 961.4 L1676.3 963.1 L1677.3 964.9 L1678.3 966.6 L1679.3 968.3 L1680.3 970.1 L1681.3 971.8 L1682.3 973.5 L1683.4 975.2 L1684.4 977.0 L1685.5 978.7 L1686.5 980.4 L1687.6 982.1 L1688.6 983.8 L1689.7 985.5 L1690.8 987.2 L1691.9 988.8 L1693.0 990.5 L1694.1 992.2 L1695.2 993.8 L1696.3 995.5 L1697.5 997.2 L1698.6 998.8 L1699.8 1000.4 L1700.9 1002.1 L1702.1 1003.7 L1703.3 1005.3 L1704.5 1006.9 L1705.6 1008.5 L1706.8 1010.1 L1708.1 1011.7 L1709.3 1013.3 L1710.5 1014.9 L1711.7 1016.4 L1713.0 1018.0 L1714.3 1019.5 L1715.5 1021.1 L1716.8 1022.6 L1718.1 1024.1 L1719.4 1025.6 L1720.7 1027.1 L1722.0 1028.6 L1723.3 1030.1 L1724.7 1031.6 L1726.0 1033.1 L1727.4 1034.5 L1728.7 1036.0 L1730.1 1037.4 L1731.5 1038.8 L1732.9 1040.3 L1734.3 1041.7 L1735.8 1043.1 L1737.2 1044.5 L1738.6 1045.8 L1740.1 1047.2 L1741.6 1048.5 L1743.0 1049.9 L1744.5 1051.2 L1746.0 1052.5 L1747.5 1053.8 L1749.1 1055.1 L1750.6 1056.4 L1752.1 1057.7 L1753.7 1059.0 L1755.2 1060.2 L1756.8 1061.5 L1758.4 1062.7 L1760.0 1063.9 L1761.6 1065.1 L1763.2 1066.3 L1764.8 1067.5 L1766.4 1068.7 L1768.0 1069.8 L1769.7 1071.0 L1771.3 1072.1 L1773.0 1073.3 L1774.6 1074.4 L1776.3 1075.5 L1778.0 1076.6 L1779.7 1077.7 L1781.3 1078.8 L1783.0 1079.8 L1784.7 1080.9 L1786.5 1081.9 L1788.2 1082.9 L1789.9 1084.0 L1791.6 1085.0 L1793.4 1086.0 L1795.1 1087.0 L1796.9 1087.9 L1798.6 1088.9 L1800.4 1089.8 L1802.1 1090.8 L1803.9 1091.7 L1805.7 1092.6 L1807.4 1093.5 L1809.2 1094.4 L1811.0 1095.3 L1812.8 1096.2 L1814.6 1097.0 L1816.4 1097.9 L1818.2 1098.7 L1820.0 1099.6 L1821.8 1100.4 L1823.6 1101.3 L1825.4 1102.1 L1827.2 1103.0 L1829.0 1103.8 L1830.8 1104.7 L1832.6 1105.5 L1834.4 1106.4 L1836.2 1107.2 L1838.0 1108.1 L1839.8 1109.0 L1841.5 1109.9 L1843.3 1110.8 L1845.1 1111.7 L1846.9 1112.7 L1848.6 1113.6 L1850.4 1114.5 L1852.1 1115.5 L1853.9 1116.4 L1855.7 1117.4 L1857.5 1118.3 L1859.2 1119.2 L1861.0 1120.2 L1862.8 1121.1 L1864.6 1122.0 L1866.4 1122.9 L1868.2 1123.8 L1870.0 1124.6 L1871.9 1125.5 L1873.7 1126.3 L1875.5 1127.2 L1877.4 1128.0 L1879.2 1128.8 L1881.1 1129.6 L1882.9 1130.3 L1884.8 1131.0 L1886.7 1131.8 L1888.5 1132.4 L1890.4 1133.1 L1892.3 1133.7 L1894.2 1134.4 L1896.1 1134.9 L1898.0 1135.5 L1899.9 1136.1 L1901.9 1136.6 L1903.8 1137.1 L1905.7 1137.6 L1907.6 1138.1 L1909.6 1138.5 L1911.5 1139.0 L1913.5 1139.5 L1915.4 1139.9 L1917.4 1140.3 L1919.3 1140.8 L1921.2 1141.2 L1923.2 1141.6 L1925.1 1142.0 L1927.1 1142.4 L1929.0 1142.9 L1931.0 1143.3 L1932.9 1143.7 L1934.9 1144.2 L1936.8 1144.6 L1938.8 1145.0 L1940.7 1145.5 L1942.7 1145.9 L1944.6 1146.4 L1946.6 1146.8 L1948.5 1147.2 L1950.5 1147.7 L1952.4 1148.1 L1954.4 1148.6 L1956.3 1149.1 L1958.3 1149.5 L1960.2 1150.0 L1962.1 1150.4 L1964.1 1150.9 L1966.0 1151.4 L1968.0 1151.8 L1969.9 1152.3 L1971.9 1152.8 L1973.8 1153.2 L1975.8 1153.7 L1977.7 1154.2 L1979.6 1154.6 L1981.6 1155.1 L1983.5 1155.6 L1985.5 1156.0 L1987.4 1156.5 L1989.4 1157.0 L1991.3 1157.5 L1993.2 1157.9 L1995.2 1158.4 L1997.1 1158.9 L1999.1 1159.4 L2001.0 1159.8 L2002.9 1160.3 L2004.9 1160.8 L2006.8 1161.3 L2008.8 1161.8 L2010.7 1162.2 L2012.6 1162.7 L2014.6 1163.2 L2016.5 1163.7 L2018.5 1164.1 L2020.4 1164.6 L2022.3 1165.1 L2024.3 1165.6 L2026.2 1166.0 L2028.2 1166.5 L2030.1 1167.0 L2032.0 1167.4 L2034.0 1167.9 L2035.9 1168.3 L2037.9 1168.7 L2039.8 1169.1 L2041.7 1169.5 L2043.7 1169.9 L2045.6 1170.3 L2047.6 1170.6 L2049.5 1170.9 L2051.5 1171.2 L2053.4 1171.5 L2055.4 1171.8 L2057.3 1172.0 L2059.3 1172.2 L2061.3 1172.3 L2063.2 1172.4 L2065.2 1172.5 L2067.1 1172.6 L2069.1 1172.7 L2071.1 1172.7 L2073.0 1172.7 L2075.0 1172.7" fill="none" stroke="#ff0000" stroke-width="3.2" stroke-linejoin="round" stroke-linecap="round"/>
<path d="M289.5 1178.3 L291.5 1178.2 L293.5 1178.2 L295.5 1178.1 L297.6 1178.1 L299.6 1178.0 L301.6 1178.0 L303.6 1178.0 L305.6 1178.0 L307.6 1178.0 L309.6 1178.0 L311.6 1178.1 L313.6 1178.1 L315.6 1178.2 L317.6 1178.2 L319.6 1178.3 L321.6 1178.3 L323.6 1178.4 L325.6 1178.5 L327.6 1178.6 L329.6 1178.7 L331.6 1178.8 L333.6 1178.9 L335.6 1179.1 L337.6 1179.2 L339.6 1179.3 L341.6 1179.5 L343.6 1179.6 L345.6 1179.7 L347.5 1179.9 L349.5 1180.1 L351.5 1180.2 L353.5 1180.4 L355.5 1180.6 L357.5 1180.7 L359.5 1180.9 L361.5 1181.1 L363.4 1181.3 L365.4 1181.5 L367.4 1181.7 L369.4 1181.9 L371.4 1182.0 L373.4 1182.2 L375.3 1182.4 L377.3 1182.6 L379.3 1182.8 L381.3 1183.0 L383.3 1183.2 L385.3 1183.4 L387.2 1183.6 L389.2 1183.8 L391.2 1184.0 L393.2 1184.2 L395.2 1184.4 L397.2 1184.6 L399.1 1184.8 L401.1 1185.0 L403.1 1185.2 L405.1 1185.4 L407.1 1185.6 L409.1 1185.8 L411.1 1186.0 L413.0 1186.2 L415.0 1186.3 L417.0 1186.5 L419.0 1186.7 L421.0 1186.8 L423.0 1187.0 L425.0 1187.1 L427.0 1187.3 L429.0 1187.4 L430.9 1187.6 L432.9 1187.7 L434.9 1187.8 L436.9 1188.0 L438.9 1188.1 L440.9 1188.2 L442.9 1188.3 L444.9 1188.4 L446.9 1188.5 L448.9 1188.6 L450.9 1188.6 L452.9 1188.7 L454.9 1188.8 L456.9 1188.8 L458.9 1188.9 L460.9 1188.9 L462.9 1188.9 L465.0 1188.9 L467.0 1188.9 L469.0 1188.9 L471.0 1188.9 L473.0 1188.9 L475.0 1188.9 L477.0 1188.9 L479.0 1188.9 L481.0 1188.9 L483.1 1188.8 L485.1 1188.8 L487.1 1188.8 L489.1 1188.8 L491.1 1188.8 L493.1 1188.8 L495.1 1188.8 L497.1 1188.8 L499.1 1188.8 L501.1 1188.8 L503.1 1188.8 L505.1 1188.8 L507.1 1188.9 L509.1 1188.9 L511.1 1189.0 L513.1 1189.0 L515.1 1189.1 L517.1 1189.2 L519.1 1189.3 L521.1 1189.4 L523.0 1189.6 L525.0 1189.7 L527.0 1189.9 L529.0 1190.1 L530.9 1190.3 L532.9 1190.5 L534.9 1190.8 L536.8 1191.1 L538.8 1191.4 L540.7 1191.7 L542.7 1192.0 L544.6 1192.4 L546.6 1192.8 L548.5 1193.2 L550.4 1193.7 L552.3 1194.1 L554.3 1194.6 L556.2 1195.1 L558.1 1195.7 L560.0 1196.1 L561.9 1196.5 L563.8 1196.9 L565.7 1197.2 L567.7 1197.4 L569.6 1197.6 L571.5 1197.7 L573.5 1197.8 L575.4 1197.8 L577.4 1197.9 L579.3 1197.9 L581.3 1197.9 L583.2 1197.8 L585.2 1197.8 L587.2 1197.8 L589.2 1197.8 L591.2 1197.8 L593.2 1197.8 L595.2 1197.8 L597.2 1197.8 L599.3 1197.8 L601.3 1197.9 L603.3 1197.9 L605.4 1197.9 L607.4 1197.9 L609.5 1198.0 L611.5 1198.0 L613.6 1198.0 L615.6 1197.9 L617.7 1197.9 L619.7 1197.9 L621.8 1197.8 L623.8 1197.7 L625.8 1197.6 L627.9 1197.5 L629.9 1197.4 L631.9 1197.2 L633.9 1197.0 L635.9 1196.8 L637.9 1196.5 L639.9 1196.2 L641.9 1195.9 L643.8 1195.6 L645.8 1195.2 L647.7 1194.7 L649.7 1194.2 L651.6 1193.7 L653.5 1193.1 L655.4 1192.5 L657.2 1191.8 L659.1 1191.1 L660.9 1190.4 L662.7 1189.5 L664.5 1188.7 L666.3 1187.8 L668.0 1186.8 L669.7 1185.8 L671.4 1184.8 L673.1 1183.7 L674.7 1182.5 L676.3 1181.4 L677.9 1180.2 L679.5 1178.9 L681.0 1177.6 L682.5 1176.3 L683.9 1175.0 L685.3 1173.6 L686.7 1172.1 L688.0 1170.7 L689.3 1169.2 L690.6 1167.7 L691.8 1166.1 L692.9 1164.5 L694.1 1162.9 L695.2 1161.3 L696.2 1159.6 L697.2 1157.9 L698.2 1156.2 L699.2 1154.5 L700.1 1152.7 L701.0 1150.9 L701.9 1149.2 L702.7 1147.3 L703.5 1145.5 L704.3 1143.7 L705.1 1141.8 L705.9 1139.9 L706.6 1138.0 L707.3 1136.1 L708.0 1134.2 L708.7 1132.3 L709.3 1130.4 L710.0 1128.5 L710.6 1126.5 L711.2 1124.6 L711.8 1122.6 L712.5 1120.7 L713.1 1118.7 L713.6 1116.8 L714.2 1114.8 L714.8 1112.8 L715.4 1110.9 L716.0 1109.0 L716.6 1107.0 L717.2 1105.1 L717.8 1103.1 L718.4 1101.2 L718.9 1099.3 L719.5 1097.4 L720.1 1095.4 L720.7 1093.5 L721.3 1091.6 L721.9 1089.7 L722.5 1087.8 L723.0 1085.8 L723.6 1083.9 L724.2 1082.0 L724.8 1080.1 L725.3 1078.2 L725.9 1076.3 L726.5 1074.4 L727.0 1072.4 L727.6 1070.5 L728.1 1068.6 L728.6 1066.7 L729.2 1064.8 L729.7 1062.8 L730.2 1060.9 L730.8 1059.0 L731.3 1057.1 L731.8 1055.1 L732.3 1053.2 L732.8 1051.3 L733.3 1049.4 L733.8 1047.4 L734.4 1045.5 L734.8 1043.6 L735.3 1041.6 L735.8 1039.7 L736.3 1037.8 L736.8 1035.8 L737.3 1033.9 L737.8 1031.9 L738.3 1030.0 L738.7 1028.1 L739.2 1026.1 L739.7 1024.2 L740.1 1022.2 L740.6 1020.3 L741.1 1018.4 L741.5 1016.4 L742.0 1014.5 L742.4 1012.5 L742.9 1010.6 L743.4 1008.6 L743.8 1006.7 L744.3 1004.7 L744.7 1002.8 L745.2 1000.9 L745.6 998.9 L746.0 997.0 L746.5 995.0 L746.9 993.1 L747.4 991.1 L747.8 989.2 L748.2 987.2 L748.7 985.3 L749.1 983.3 L749.6 981.3 L750.0 979.4 L750.4 977.4 L750.9 975.5 L751.3 973.5 L751.7 971.6 L752.2 969.6 L752.6 967.7 L753.0 965.7 L753.5 963.8 L753.9 961.8 L754.3 959.9 L754.8 957.9 L755.2 956.0 L755.7 954.0 L756.1 952.1 L756.5 950.1 L757.0 948.1 L757.4 946.2 L757.8 944.2 L758.3 942.3 L758.7 940.3 L759.2 938.4 L759.6 936.4 L760.0 934.5 L760.5 932.5 L760.9 930.6 L761.4 928.6 L761.8 926.7 L762.3 924.7 L762.7 922.8 L763.2 920.8 L763.7 918.9 L764.1 916.9 L764.6 915.0 L765.0 913.0 L765.5 911.1 L766.0 909.1 L766.4 907.2 L766.9 905.2 L767.4 903.3 L767.9 901.3 L768.3 899.4 L768.8 897.4 L769.3 895.5 L769.8 893.6 L770.3 891.6 L770.8 889.7 L771.3 887.7 L771.8 885.8 L772.3 883.8 L772.8 881.9 L773.3 880.0 L773.8 878.0 L774.3 876.1 L774.8 874.2 L775.4 872.2 L775.9 870.3 L776.4 868.4 L777.0 866.4 L777.5 864.5 L778.1 862.6 L778.6 860.6 L779.2 858.7 L779.7 856.8 L780.3 854.8 L780.8 852.9 L781.4 851.0 L782.0 849.1 L782.6 847.2 L783.1 845.2 L783.7 843.3 L784.3 841.4 L784.9 839.5 L785.5 837.6 L786.1 835.7 L786.8 833.8 L787.4 831.9 L788.0 830.0 L788.6 828.1 L789.3 826.2 L789.9 824.3 L790.6 822.4 L791.2 820.5 L791.9 818.6 L792.5 816.7 L793.2 814.8 L793.9 812.9 L794.6 811.0 L795.2 809.2 L795.9 807.3 L796.6 805.4 L797.4 803.6 L798.1 801.7 L798.8 799.8 L799.5 798.0 L800.2 796.1 L801.0 794.2 L801.7 792.4 L802.5 790.5 L803.2 788.7 L804.0 786.8 L804.8 785.0 L805.6 783.2 L806.4 781.3 L807.2 779.5 L808.0 777.7 L808.8 775.8 L809.6 774.0 L810.4 772.2 L811.2 770.4 L812.1 768.6 L812.9 766.8 L813.8 765.0 L814.7 763.2 L815.5 761.4 L816.4 759.6 L817.3 757.8 L818.2 756.0 L819.1 754.2 L820.0 752.5 L820.9 750.7 L821.9 748.9 L822.8 747.2 L823.8 745.4 L824.7 743.6 L825.7 741.9 L826.6 740.1 L827.6 738.4 L828.6 736.7 L829.6 734.9 L830.6 733.2 L831.6 731.5 L832.6 729.8 L833.7 728.0 L834.7 726.3 L835.7 724.6 L836.8 722.9 L837.8 721.2 L838.9 719.5 L840.0 717.9 L841.0 716.2 L842.1 714.5 L843.2 712.8 L844.3 711.1 L845.4 709.5 L846.6 707.8 L847.7 706.2 L848.8 704.5 L849.9 702.9 L851.1 701.2 L852.2 699.6 L853.4 698.0 L854.6 696.4 L855.8 694.7 L856.9 693.1 L858.1 691.5 L859.3 689.9 L860.5 688.3 L861.7 686.7 L863.0 685.1 L864.2 683.6 L865.4 682.0 L866.7 680.4 L867.9 678.8 L869.2 677.3 L870.4 675.7 L871.7 674.2 L873.0 672.6 L874.2 671.1 L875.5 669.6 L876.8 668.1 L878.1 666.5 L879.4 665.0 L880.7 663.5 L882.1 662.0 L883.4 660.5 L884.7 659.0 L886.1 657.5 L887.4 656.1 L888.8 654.6 L890.1 653.1 L891.5 651.7 L892.9 650.2 L894.3 648.8 L895.6 647.3 L897.0 645.9 L898.4 644.5 L899.8 643.0 L901.3 641.6 L902.7 640.2 L904.1 638.8 L905.5 637.4 L907.0 636.0 L908.4 634.7 L909.9 633.3 L911.3 631.9 L912.8 630.5 L914.3 629.2 L915.7 627.8 L917.2 626.5 L918.7 625.2 L920.2 623.8 L921.7 622.5 L923.2 621.2 L924.7 619.9 L926.2 618.6 L927.7 617.3 L929.3 616.0 L930.8 614.7 L932.3 613.5 L933.9 612.2 L935.4 610.9 L937.0 609.7 L938.6 608.4 L940.1 607.2 L941.7 606.0 L943.3 604.7 L944.9 603.5 L946.4 602.3 L948.0 601.1 L949.6 599.9 L951.3 598.7 L952.9 597.6 L954.5 596.4 L956.1 595.2 L957.7 594.1 L959.4 592.9 L961.0 591.8 L962.6 590.6 L964.3 589.5 L965.9 588.4 L967.6 587.3 L969.3 586.2 L970.9 585.1 L972.6 584.0 L974.3 582.9 L976.0 581.8 L977.7 580.8 L979.4 579.7 L981.1 578.7 L982.8 577.6 L984.5 576.6 L986.2 575.6 L987.9 574.6 L989.6 573.6 L991.4 572.6 L993.1 571.6 L994.8 570.6 L996.6 569.6 L998.3 568.6 L1000.1 567.7 L1001.8 566.7 L1003.6 565.8 L1005.4 564.9 L1007.2 563.9 L1008.9 563.0 L1010.7 562.1 L1012.5 561.2 L1014.3 560.3 L1016.1 559.4 L1017.9 558.6 L1019.7 557.7 L1021.5 556.8 L1023.3 556.0 L1025.1 555.2 L1026.9 554.3 L1028.8 553.5 L1030.6 552.7 L1032.4 551.9 L1034.3 551.1 L1036.1 550.3 L1037.9 549.5 L1039.8 548.8 L1041.6 548.0 L1043.5 547.3 L1045.4 546.5 L1047.2 545.8 L1049.1 545.1 L1051.0 544.4 L1052.8 543.7 L1054.7 543.0 L1056.6 542.3 L1058.5 541.6 L1060.4 541.0 L1062.3 540.3 L1064.1 539.7 L1066.0 539.1 L1067.9 538.4 L1069.9 537.8 L1071.8 537.2 L1073.7 536.6 L1075.6 536.1 L1077.5 535.5 L1079.4 534.9 L1081.3 534.3 L1083.2 533.7 L1085.1 533.2 L1087.1 532.6 L1089.0 532.0 L1090.9 531.4 L1092.8 530.8 L1094.7 530.2 L1096.6 529.5 L1098.4 528.9 L1100.3 528.2 L1102.2 527.5 L1104.1 526.9 L1105.9 526.2 L1107.8 525.5 L1109.7 524.8 L1111.6 524.2 L1113.4 523.5 L1115.3 522.9 L1117.2 522.3 L1119.1 521.8 L1121.0 521.3 L1123.0 520.8 L1124.9 520.3 L1126.8 519.9 L1128.8 519.5 L1130.7 519.1 L1132.7 518.7 L1134.7 518.4 L1136.6 518.0 L1138.6 517.7 L1140.6 517.4 L1142.6 517.1 L1144.6 516.9 L1146.6 516.6 L1148.5 516.3 L1150.5 516.1 L1152.5 515.8 L1154.5 515.5 L1156.5 515.3 L1158.5 515.0 L1160.5 514.7 L1162.5 514.4 L1164.5 514.1 L1166.5 513.8 L1168.4 513.5 L1170.4 513.2 L1172.4 512.8 L1174.3 512.4 L1176.3 512.0 L1178.2 511.6 L1180.2 511.1 L1182.1 510.6 L1184.1 510.1 L1186.0 509.6 L1187.9 509.1 L1189.8 508.5 L1191.8 508.0 L1193.7 507.4 L1195.6 506.8 L1197.5 506.2 L1199.4 505.6 L1201.3 505.0 L1203.2 504.4 L1205.1 503.8 L1207.0 503.2 L1208.9 502.6 L1210.8 502.0 L1212.8 501.4 L1214.7 500.8 L1216.6 500.2 L1218.5 499.6 L1220.4 499.1 L1222.3 498.5 L1224.3 498.0 L1226.2 497.4 L1228.1 496.9 L1230.1 496.4 L1232.0 496.0 L1234.0 495.5 L1235.9 495.0 L1237.9 494.6 L1239.8 494.1 L1241.8 493.6 L1243.7 493.2 L1245.7 492.8 L1247.6 492.3 L1249.6 491.9 L1251.5 491.4 L1253.5 491.0 L1255.4 490.5 L1257.4 490.0 L1259.3 489.6 L1261.2 489.1 L1263.2 488.6 L1265.1 488.0 L1267.0 487.5 L1268.9 486.9 L1270.8 486.3 L1272.7 485.7 L1274.5 485.0 L1276.4 484.3 L1278.2 483.6 L1280.0 482.8 L1281.8 481.9 L1283.6 481.1 L1285.3 480.2 L1287.1 479.3 L1288.8 478.3 L1290.5 477.4 L1292.3 476.4 L1294.0 475.4 L1295.7 474.4 L1297.4 473.4 L1299.1 472.3 L1300.8 471.3 L1302.5 470.3 L1304.3 469.3 L1306.0 468.3 L1307.7 467.4 L1309.5 466.4 L1311.2 465.5 L1313.0 464.6 L1314.7 463.7 L1316.5 462.9 L1318.4 462.1 L1320.2 461.4 L1322.0 460.7 L1323.9 460.0 L1325.8 459.4 L1327.7 458.8 L1329.7 458.4 L1331.7 457.9 L1333.6 457.5 L1335.6 457.1 L1337.6 456.8 L1339.7 456.5 L1341.7 456.3 L1343.7 456.0 L1345.8 455.8 L1347.8 455.6 L1349.8 455.4 L1351.9 455.2 L1353.9 455.1 L1355.9 454.9 L1357.9 454.7 L1359.9 454.6 L1361.8 454.4 L1363.8 454.2 L1365.7 454.0 L1367.7 453.9 L1369.6 453.7 L1371.6 453.6 L1373.5 453.4 L1375.5 453.2 L1377.4 453.1 L1379.4 453.0 L1381.3 452.8 L1383.3 452.7 L1385.2 452.6 L1387.2 452.5 L1389.1 452.4 L1391.1 452.3 L1393.1 452.2 L1395.1 452.1 L1397.0 452.0 L1399.0 452.0 L1401.0 451.9 L1403.0 451.8 L1405.0 451.8 L1407.0 451.7 L1409.0 451.7 L1411.0 451.7 L1413.0 451.6 L1415.0 451.6 L1417.0 451.6 L1419.0 451.6 L1421.1 451.6 L1423.1 451.6 L1425.1 451.6 L1427.1 451.6 L1429.1 451.6 L1431.1 451.6 L1433.1 451.6 L1435.1 451.6 L1437.2 451.7 L1439.2 451.7 L1441.2 451.7 L1443.2 451.8 L1445.2 451.8 L1447.2 451.9 L1449.2 451.9 L1451.2 452.0 L1453.2 452.0 L1455.2 452.1 L1457.2 452.1 L1459.1 452.2 L1461.1 452.3 L1463.1 452.3 L1465.1 452.4 L1467.1 452.4 L1469.0 452.5 L1471.0 452.5 L1473.0 452.5 L1475.0 452.6 L1476.9 452.6 L1478.9 452.6 L1480.9 452.6 L1482.9 452.6 L1484.8 452.6 L1486.8 452.5 L1488.8 452.5 L1490.8 452.5 L1492.7 452.4 L1494.7 452.4 L1496.7 452.5 L1498.7 452.5 L1500.6 452.6 L1502.6 452.7 L1504.6 452.8 L1506.5 453.0 L1508.5 453.3 L1510.4 453.6 L1512.4 454.0 L1514.3 454.5 L1516.3 455.0 L1518.2 455.6 L1520.1 456.3 L1522.0 457.1 L1523.9 458.0 L1525.7 458.9 L1527.5 460.0 L1529.2 461.1 L1530.9 462.3 L1532.4 463.5 L1533.9 464.9 L1535.3 466.3 L1536.5 467.8 L1537.7 469.4 L1538.8 471.0 L1539.8 472.7 L1540.8 474.4 L1541.7 476.1 L1542.6 477.9 L1543.5 479.7 L1544.3 481.5 L1545.1 483.3 L1545.8 485.2 L1546.6 487.0 L1547.3 488.8 L1548.1 490.7 L1548.8 492.6 L1549.5 494.4 L1550.1 496.3 L1550.8 498.2 L1551.4 500.1 L1552.0 501.9 L1552.7 503.8 L1553.2 505.7 L1553.8 507.6 L1554.4 509.6 L1555.0 511.5 L1555.5 513.4 L1556.0 515.3 L1556.5 517.2 L1557.0 519.2 L1557.5 521.1 L1558.0 523.1 L1558.5 525.0 L1559.0 527.0 L1559.4 528.9 L1559.9 530.9 L1560.3 532.8 L1560.7 534.8 L1561.1 536.7 L1561.6 538.7 L1562.0 540.7 L1562.4 542.7 L1562.8 544.6 L1563.2 546.6 L1563.5 548.6 L1563.9 550.5 L1564.3 552.5 L1564.7 554.5 L1565.0 556.5 L1565.4 558.5 L1565.7 560.4 L1566.1 562.4 L1566.5 564.4 L1566.8 566.4 L1567.2 568.4 L1567.5 570.3 L1567.9 572.3 L1568.2 574.3 L1568.6 576.3 L1568.9 578.2 L1569.2 580.2 L1569.6 582.2 L1569.9 584.2 L1570.3 586.2 L1570.6 588.1 L1570.9 590.1 L1571.3 592.1 L1571.6 594.1 L1571.9 596.0 L1572.3 598.0 L1572.6 600.0 L1572.9 602.0 L1573.3 604.0 L1573.6 605.9 L1573.9 607.9 L1574.2 609.9 L1574.6 611.9 L1574.9 613.8 L1575.2 615.8 L1575.5 617.8 L1575.9 619.8 L1576.2 621.7 L1576.5 623.7 L1576.8 625.7 L1577.1 627.7 L1577.5 629.6 L1577.8 631.6 L1578.1 633.6 L1578.4 635.6 L1578.8 637.5 L1579.1 639.5 L1579.4 641.5 L1579.7 643.5 L1580.1 645.4 L1580.4 647.4 L1580.7 649.4 L1581.0 651.4 L1581.4 653.3 L1581.7 655.3 L1582.0 657.3 L1582.3 659.2 L1582.7 661.2 L1583.0 663.2 L1583.3 665.2 L1583.7 667.1 L1584.0 669.1 L1584.3 671.1 L1584.7 673.0 L1585.0 675.0 L1585.4 677.0 L1585.7 678.9 L1586.0 680.9 L1586.4 682.9 L1586.7 684.8 L1587.1 686.8 L1587.4 688.8 L1587.8 690.8 L1588.1 692.7 L1588.5 694.7 L1588.8 696.7 L1589.2 698.6 L1589.6 700.6 L1589.9 702.5 L1590.3 704.5 L1590.7 706.5 L1591.0 708.4 L1591.4 710.4 L1591.8 712.4 L1592.2 714.3 L1592.5 716.3 L1592.9 718.3 L1593.3 720.2 L1593.7 722.2 L1594.1 724.1 L1594.5 726.1 L1594.9 728.1 L1595.3 730.0 L1595.7 732.0 L1596.1 733.9 L1596.5 735.9 L1596.9 737.9 L1597.3 739.8 L1597.7 741.8 L1598.2 743.7 L1598.6 745.7 L1599.0 747.6 L1599.4 749.6 L1599.9 751.6 L1600.3 753.5 L1600.8 755.5 L1601.2 757.4 L1601.7 759.4 L1602.1 761.3 L1602.6 763.3 L1603.0 765.2 L1603.5 767.2 L1603.9 769.1 L1604.4 771.1 L1604.9 773.0 L1605.4 775.0 L1605.8 776.9 L1606.3 778.8 L1606.8 780.8 L1607.3 782.7 L1607.8 784.7 L1608.3 786.6 L1608.8 788.5 L1609.3 790.5 L1609.8 792.4 L1610.3 794.3 L1610.8 796.3 L1611.3 798.2 L1611.9 800.1 L1612.4 802.1 L1612.9 804.0 L1613.5 805.9 L1614.0 807.9 L1614.5 809.8 L1615.1 811.7 L1615.6 813.6 L1616.2 815.6 L1616.7 817.5 L1617.3 819.4 L1617.9 821.3 L1618.5 823.2 L1619.0 825.1 L1619.6 827.1 L1620.2 829.0 L1620.8 830.9 L1621.4 832.8 L1622.0 834.7 L1622.6 836.6 L1623.2 838.5 L1623.8 840.4 L1624.4 842.3 L1625.0 844.2 L1625.7 846.1 L1626.3 848.0 L1626.9 849.9 L1627.6 851.8 L1628.2 853.7 L1628.9 855.6 L1629.5 857.5 L1630.2 859.4 L1630.8 861.3 L1631.5 863.1 L1632.2 865.0 L1632.9 866.9 L1633.5 868.8 L1634.2 870.7 L1634.9 872.5 L1635.6 874.4 L1636.3 876.3 L1637.0 878.2 L1637.7 880.0 L1638.5 881.9 L1639.2 883.7 L1639.9 885.6 L1640.6 887.5 L1641.4 889.3 L1642.1 891.2 L1642.9 893.0 L1643.6 894.9 L1644.4 896.7 L1645.1 898.6 L1645.9 900.4 L1646.7 902.3 L1647.5 904.1 L1648.3 906.0 L1649.1 907.8 L1649.9 909.6 L1650.7 911.5 L1651.5 913.3 L1652.3 915.1 L1653.1 916.9 L1653.9 918.8 L1654.8 920.6 L1655.6 922.4 L1656.4 924.2 L1657.3 926.0 L1658.1 927.9 L1659.0 929.7 L1659.9 931.5 L1660.8 933.3 L1661.6 935.1 L1662.5 936.9 L1663.4 938.7 L1664.3 940.5 L1665.2 942.2 L1666.1 944.0 L1667.0 945.8 L1668.0 947.6 L1668.9 949.4 L1669.8 951.1 L1670.8 952.9 L1671.7 954.7 L1672.7 956.4 L1673.6 958.2 L1674.6 959.9 L1675.6 961.7 L1676.6 963.4 L1677.6 965.2 L1678.5 966.9 L1679.6 968.7 L1680.6 970.4 L1681.6 972.1 L1682.6 973.8 L1683.6 975.5 L1684.7 977.3 L1685.7 979.0 L1686.8 980.7 L1687.8 982.4 L1688.9 984.0 L1690.0 985.7 L1691.1 987.4 L1692.2 989.1 L1693.3 990.8 L1694.4 992.4 L1695.5 994.1 L1696.6 995.7 L1697.7 997.4 L1698.9 999.0 L1700.0 1000.7 L1701.2 1002.3 L1702.3 1003.9 L1703.5 1005.6 L1704.7 1007.2 L1705.9 1008.8 L1707.1 1010.4 L1708.3 1012.0 L1709.5 1013.6 L1710.7 1015.2 L1711.9 1016.7 L1713.2 1018.3 L1714.4 1019.9 L1715.7 1021.4 L1716.9 1023.0 L1718.2 1024.5 L1719.5 1026.1 L1720.8 1027.6 L1722.1 1029.1 L1723.4 1030.6 L1724.7 1032.1 L1726.0 1033.6 L1727.3 1035.1 L1728.7 1036.6 L1730.0 1038.1 L1731.4 1039.6 L1732.8 1041.0 L1734.1 1042.5 L1735.5 1044.0 L1736.9 1045.4 L1738.3 1046.8 L1739.7 1048.2 L1741.1 1049.7 L1742.5 1051.1 L1744.0 1052.5 L1745.4 1053.9 L1746.9 1055.2 L1748.3 1056.6 L1749.8 1058.0 L1751.3 1059.3 L1752.7 1060.7 L1754.2 1062.0 L1755.7 1063.3 L1757.2 1064.7 L1758.7 1066.0 L1760.3 1067.3 L1761.8 1068.5 L1763.3 1069.8 L1764.9 1071.1 L1766.4 1072.4 L1768.0 1073.6 L1769.5 1074.8 L1771.1 1076.1 L1772.7 1077.3 L1774.3 1078.5 L1775.9 1079.7 L1777.5 1080.9 L1779.1 1082.1 L1780.7 1083.2 L1782.3 1084.4 L1784.0 1085.5 L1785.6 1086.7 L1787.2 1087.8 L1788.9 1088.9 L1790.6 1090.0 L1792.2 1091.1 L1793.9 1092.2 L1795.6 1093.2 L1797.3 1094.3 L1799.0 1095.3 L1800.7 1096.4 L1802.4 1097.4 L1804.1 1098.4 L1805.8 1099.5 L1807.5 1100.5 L1809.2 1101.5 L1811.0 1102.4 L1812.7 1103.4 L1814.5 1104.4 L1816.2 1105.3 L1818.0 1106.3 L1819.7 1107.2 L1821.5 1108.2 L1823.3 1109.1 L1825.0 1110.0 L1826.8 1110.9 L1828.6 1111.8 L1830.4 1112.7 L1832.2 1113.6 L1834.0 1114.5 L1835.8 1115.3 L1837.6 1116.2 L1839.4 1117.0 L1841.2 1117.9 L1843.0 1118.7 L1844.9 1119.5 L1846.7 1120.4 L1848.5 1121.2 L1850.4 1122.0 L1852.2 1122.8 L1854.0 1123.6 L1855.9 1124.4 L1857.7 1125.1 L1859.6 1125.9 L1861.4 1126.7 L1863.3 1127.4 L1865.2 1128.2 L1867.0 1128.9 L1868.9 1129.7 L1870.8 1130.4 L1872.6 1131.1 L1874.5 1131.9 L1876.4 1132.6 L1878.2 1133.3 L1880.1 1134.0 L1882.0 1134.7 L1883.9 1135.4 L1885.8 1136.1 L1887.7 1136.7 L1889.5 1137.4 L1891.4 1138.1 L1893.3 1138.7 L1895.2 1139.4 L1897.1 1140.1 L1899.0 1140.7 L1900.9 1141.4 L1902.8 1142.0 L1904.7 1142.6 L1906.6 1143.3 L1908.5 1143.9 L1910.4 1144.5 L1912.3 1145.1 L1914.2 1145.7 L1916.1 1146.3 L1918.0 1146.9 L1920.0 1147.5 L1921.9 1148.1 L1923.8 1148.7 L1925.7 1149.3 L1927.6 1149.9 L1929.5 1150.4 L1931.4 1151.0 L1933.4 1151.6 L1935.3 1152.1 L1937.2 1152.7 L1939.1 1153.2 L1941.0 1153.8 L1943.0 1154.3 L1944.9 1154.9 L1946.8 1155.4 L1948.8 1155.9 L1950.7 1156.4 L1952.6 1157.0 L1954.5 1157.5 L1956.5 1158.0 L1958.4 1158.5 L1960.4 1159.0 L1962.3 1159.5 L1964.2 1160.0 L1966.2 1160.5 L1968.1 1160.9 L1970.0 1161.4 L1972.0 1161.9 L1973.9 1162.4 L1975.9 1162.8 L1977.8 1163.3 L1979.8 1163.8 L1981.7 1164.2 L1983.7 1164.7 L1985.6 1165.1 L1987.5 1165.5 L1989.5 1166.0 L1991.4 1166.4 L1993.4 1166.9 L1995.4 1167.3 L1997.3 1167.7 L1999.3 1168.1 L2001.2 1168.5 L2003.2 1169.0 L2005.1 1169.4 L2007.1 1169.8 L2009.0 1170.2 L2011.0 1170.6 L2013.0 1171.0 L2014.9 1171.3 L2016.9 1171.7 L2018.8 1172.1 L2020.8 1172.5 L2022.8 1172.9 L2024.7 1173.2 L2026.7 1173.6 L2028.7 1174.0 L2030.6 1174.3 L2032.6 1174.7 L2034.6 1175.1 L2036.5 1175.4 L2038.5 1175.8 L2040.5 1176.1 L2042.4 1176.4 L2044.4 1176.8 L2046.4 1177.1 L2048.3 1177.5 L2050.3 1177.8 L2052.3 1178.1 L2054.3 1178.4 L2056.2 1178.8 L2058.2 1179.1 L2060.2 1179.4 L2062.1 1179.7 L2064.1 1180.0 L2066.1 1180.3 L2068.1 1180.6 L2070.0 1180.9 L2072.0 1181.2 L2074.0 1181.5" fill="none" stroke="#990000" stroke-width="3.2" stroke-linejoin="round" stroke-linecap="round"/>
</svg>
</body></html>
